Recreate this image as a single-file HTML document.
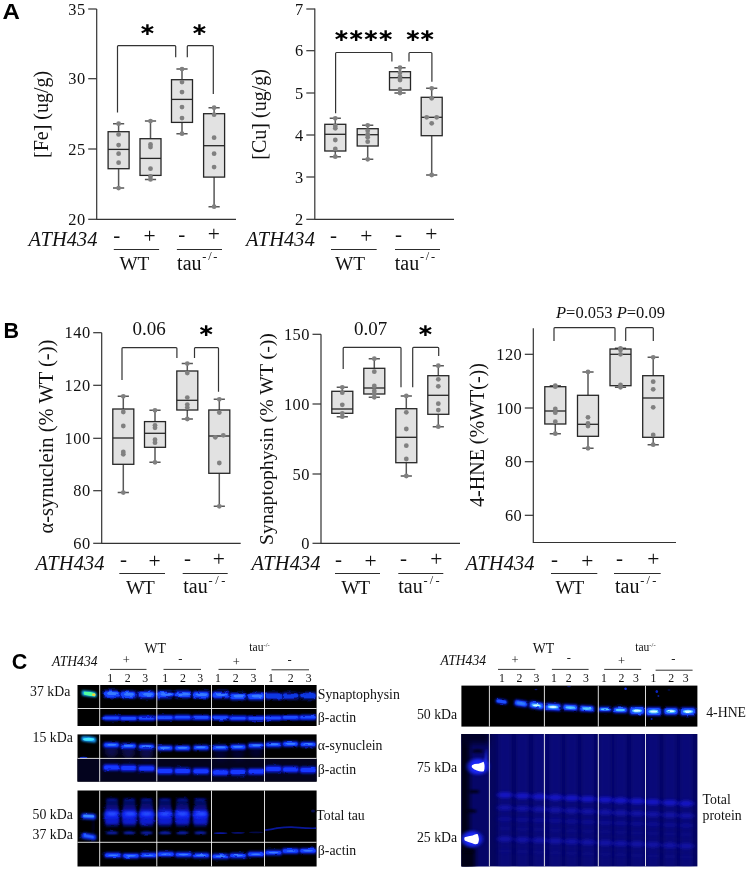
<!DOCTYPE html>
<html lang="en"><head><meta charset="utf-8"><title>Figure</title>
<style>
html,body{margin:0;padding:0;background:#fff}
svg{display:block}
text{font-family:"Liberation Serif", serif}
</style></head><body>
<svg width="749" height="871" viewBox="0 0 749 871">
<defs>
<filter id="b1" x="-30%" y="-100%" width="160%" height="300%"><feGaussianBlur stdDeviation="1.1 0.9"/></filter>
<filter id="b2" x="-30%" y="-100%" width="160%" height="300%"><feGaussianBlur stdDeviation="2 1.6"/></filter>
<filter id="b3" x="-30%" y="-50%" width="160%" height="200%"><feGaussianBlur stdDeviation="2.5 3"/></filter>
<filter id="b05" x="-30%" y="-100%" width="160%" height="300%"><feGaussianBlur stdDeviation="0.6"/></filter>
</defs>
<rect width="749" height="871" fill="#fff"/>

<text transform="translate(2.6 18.6) scale(1.12 1)" x="0" y="0" font-size="21.5" font-weight="bold" style='font-family:"Liberation Sans", sans-serif' fill="#000">A</text>
<text x="3.6" y="338.2" font-size="21.5" text-anchor="start" style='font-family:"Liberation Sans", sans-serif' font-weight="bold" fill="#000">B</text>
<text x="11.8" y="668.6" font-size="21.5" text-anchor="start" style='font-family:"Liberation Sans", sans-serif' font-weight="bold" fill="#000">C</text>
<path d="M96.7 9.0V219.3H236.0" stroke="#333" stroke-width="1.2" fill="none"/>
<path d="M88.2 9.0h8.5" stroke="#333" stroke-width="1.2"/>
<text x="85.7" y="14.6" font-size="16.4" text-anchor="end" fill="#111" letter-spacing="0.5">35</text>
<path d="M88.2 78.7h8.5" stroke="#333" stroke-width="1.2"/>
<text x="85.7" y="84.3" font-size="16.4" text-anchor="end" fill="#111" letter-spacing="0.5">30</text>
<path d="M88.2 149.0h8.5" stroke="#333" stroke-width="1.2"/>
<text x="85.7" y="154.6" font-size="16.4" text-anchor="end" fill="#111" letter-spacing="0.5">25</text>
<path d="M88.2 219.3h8.5" stroke="#333" stroke-width="1.2"/>
<text x="85.7" y="224.9" font-size="16.4" text-anchor="end" fill="#111" letter-spacing="0.5">20</text>
<text transform="translate(47.8 114.4) rotate(-90)" font-size="20" text-anchor="middle" fill="#111">[Fe] (ug/g)</text>
<path d="M117.5 112.5V46.6q0 -0.9 0.9 -0.9H174.8q0.9 0 0.9 0.9V57.3" stroke="#333" stroke-width="1.2" fill="none"/>
<path d="M187.3 57.3V46.6q0 -0.9 0.9 -0.9H212.4q0.9 0 0.9 0.9V94.0" stroke="#333" stroke-width="1.2" fill="none"/>
<path d="M118.6 123.7V131.7M118.6 168.7V188.1M113.0 123.7h11.2M113.0 188.1h11.2" stroke="#585858" stroke-width="1.5" fill="none"/>
<rect x="108.1" y="131.7" width="21.0" height="37.0" fill="#e2e2e2" stroke="#262626" stroke-width="1.3"/>
<path d="M108.1 149.4h21.0" stroke="#262626" stroke-width="1.3"/>
<circle cx="118.6" cy="123.7" r="2.4" fill="#808080"/>
<circle cx="118.6" cy="134.4" r="2.4" fill="#808080"/>
<circle cx="118.6" cy="145.1" r="2.4" fill="#808080"/>
<circle cx="118.6" cy="153.7" r="2.4" fill="#808080"/>
<circle cx="118.6" cy="162.7" r="2.4" fill="#808080"/>
<circle cx="118.6" cy="188.1" r="2.4" fill="#808080"/>
<path d="M150.5 121.1V138.7M150.5 175.4V179.4M144.9 121.1h11.2M144.9 179.4h11.2" stroke="#585858" stroke-width="1.5" fill="none"/>
<rect x="140.0" y="138.7" width="21.0" height="36.7" fill="#e2e2e2" stroke="#262626" stroke-width="1.3"/>
<path d="M140.0 158.4h21.0" stroke="#262626" stroke-width="1.3"/>
<circle cx="150.5" cy="121.1" r="2.4" fill="#808080"/>
<circle cx="150.5" cy="144.4" r="2.4" fill="#808080"/>
<circle cx="150.5" cy="147.1" r="2.4" fill="#808080"/>
<circle cx="150.5" cy="168.7" r="2.4" fill="#808080"/>
<circle cx="150.5" cy="176.4" r="2.4" fill="#808080"/>
<circle cx="150.5" cy="179.4" r="2.4" fill="#808080"/>
<path d="M182.0 69.1V79.7M182.0 122.4V133.7M176.4 69.1h11.2M176.4 133.7h11.2" stroke="#585858" stroke-width="1.5" fill="none"/>
<rect x="171.5" y="79.7" width="21.0" height="42.7" fill="#e2e2e2" stroke="#262626" stroke-width="1.3"/>
<path d="M171.5 99.4h21.0" stroke="#262626" stroke-width="1.3"/>
<circle cx="182.0" cy="69.1" r="2.4" fill="#808080"/>
<circle cx="182.0" cy="82.1" r="2.4" fill="#808080"/>
<circle cx="182.0" cy="92.1" r="2.4" fill="#808080"/>
<circle cx="182.0" cy="107.1" r="2.4" fill="#808080"/>
<circle cx="182.0" cy="118.1" r="2.4" fill="#808080"/>
<circle cx="182.0" cy="133.7" r="2.4" fill="#808080"/>
<path d="M214.1 107.7V113.7M214.1 177.1V206.7M208.5 107.7h11.2M208.5 206.7h11.2" stroke="#585858" stroke-width="1.5" fill="none"/>
<rect x="203.6" y="113.7" width="21.0" height="63.4" fill="#e2e2e2" stroke="#262626" stroke-width="1.3"/>
<path d="M203.6 145.7h21.0" stroke="#262626" stroke-width="1.3"/>
<circle cx="214.1" cy="107.7" r="2.4" fill="#808080"/>
<circle cx="214.1" cy="114.7" r="2.4" fill="#808080"/>
<circle cx="214.1" cy="137.7" r="2.4" fill="#808080"/>
<circle cx="214.1" cy="153.7" r="2.4" fill="#808080"/>
<circle cx="214.1" cy="167.1" r="2.4" fill="#808080"/>
<circle cx="214.1" cy="206.7" r="2.4" fill="#808080"/>
<text x="97.7" y="245.9" font-size="20.4" text-anchor="end" font-style="italic" fill="#111" letter-spacing="0.12">ATH434</text>
<text x="116.8" y="241.9" font-size="21" text-anchor="middle" fill="#111">-</text>
<text x="149.5" y="243.1" font-size="21.5" text-anchor="middle" fill="#111">+</text>
<text x="181.8" y="240.9" font-size="21" text-anchor="middle" fill="#111">-</text>
<text x="213.8" y="241.3" font-size="21.5" text-anchor="middle" fill="#111">+</text>
<path d="M113.8 249.5H159.1" stroke="#2c2c2c" stroke-width="1"/>
<path d="M176.9 249.5H222.0" stroke="#2c2c2c" stroke-width="1"/>
<text x="134.4" y="270.1" font-size="19.3" text-anchor="middle" fill="#111" letter-spacing="0">WT</text>
<text x="198.1" y="269.8" font-size="20" text-anchor="middle" fill="#111">tau<tspan font-size="12.4" dy="-9.4" dx="0.8" letter-spacing="1.7">-/-</tspan></text>
<path d="M314.8 8.6V219.3H454.0" stroke="#333" stroke-width="1.2" fill="none"/>
<path d="M306.3 9.0h8.5" stroke="#333" stroke-width="1.2"/>
<text x="303.8" y="14.6" font-size="16.4" text-anchor="end" fill="#111" letter-spacing="0.5">7</text>
<path d="M306.3 50.7h8.5" stroke="#333" stroke-width="1.2"/>
<text x="303.8" y="56.3" font-size="16.4" text-anchor="end" fill="#111" letter-spacing="0.5">6</text>
<path d="M306.3 93.0h8.5" stroke="#333" stroke-width="1.2"/>
<text x="303.8" y="98.6" font-size="16.4" text-anchor="end" fill="#111" letter-spacing="0.5">5</text>
<path d="M306.3 135.0h8.5" stroke="#333" stroke-width="1.2"/>
<text x="303.8" y="140.6" font-size="16.4" text-anchor="end" fill="#111" letter-spacing="0.5">4</text>
<path d="M306.3 177.0h8.5" stroke="#333" stroke-width="1.2"/>
<text x="303.8" y="182.6" font-size="16.4" text-anchor="end" fill="#111" letter-spacing="0.5">3</text>
<path d="M306.3 219.3h8.5" stroke="#333" stroke-width="1.2"/>
<text x="303.8" y="224.9" font-size="16.4" text-anchor="end" fill="#111" letter-spacing="0.5">2</text>
<text transform="translate(266.4 114.4) rotate(-90)" font-size="20" text-anchor="middle" fill="#111">[Cu] (ug/g)</text>
<path d="M335.6 113.3V53.4q0 -0.9 0.9 -0.9H391.0q0.9 0 0.9 0.9V61.5" stroke="#333" stroke-width="1.2" fill="none"/>
<path d="M409.0 61.5V53.4q0 -0.9 0.9 -0.9H431.0q0.9 0 0.9 0.9V81.7" stroke="#333" stroke-width="1.2" fill="none"/>
<path d="M335.3 118.3V124.3M335.3 151.0V156.7M329.7 118.3h11.2M329.7 156.7h11.2" stroke="#585858" stroke-width="1.5" fill="none"/>
<rect x="324.8" y="124.3" width="21.0" height="26.7" fill="#e2e2e2" stroke="#262626" stroke-width="1.3"/>
<path d="M324.8 134.3h21.0" stroke="#262626" stroke-width="1.3"/>
<circle cx="335.3" cy="118.3" r="2.4" fill="#808080"/>
<circle cx="335.3" cy="126.0" r="2.4" fill="#808080"/>
<circle cx="335.3" cy="128.3" r="2.4" fill="#808080"/>
<circle cx="335.3" cy="140.0" r="2.4" fill="#808080"/>
<circle cx="335.3" cy="149.0" r="2.4" fill="#808080"/>
<circle cx="335.3" cy="156.7" r="2.4" fill="#808080"/>
<path d="M367.7 125.3V128.7M367.7 146.0V159.3M362.1 125.3h11.2M362.1 159.3h11.2" stroke="#585858" stroke-width="1.5" fill="none"/>
<rect x="357.2" y="128.7" width="21.0" height="17.3" fill="#e2e2e2" stroke="#262626" stroke-width="1.3"/>
<path d="M357.2 134.7h21.0" stroke="#262626" stroke-width="1.3"/>
<circle cx="367.7" cy="125.3" r="2.4" fill="#808080"/>
<circle cx="367.7" cy="130.7" r="2.4" fill="#808080"/>
<circle cx="367.7" cy="134.3" r="2.4" fill="#808080"/>
<circle cx="367.7" cy="137.3" r="2.4" fill="#808080"/>
<circle cx="367.7" cy="141.7" r="2.4" fill="#808080"/>
<circle cx="367.7" cy="159.3" r="2.4" fill="#808080"/>
<path d="M400.0 67.7V71.7M400.0 90.0V93.0M394.4 67.7h11.2M394.4 93.0h11.2" stroke="#585858" stroke-width="1.5" fill="none"/>
<rect x="389.5" y="71.7" width="21.0" height="18.3" fill="#e2e2e2" stroke="#262626" stroke-width="1.3"/>
<path d="M389.5 77.7h21.0" stroke="#262626" stroke-width="1.3"/>
<circle cx="400.0" cy="67.7" r="2.4" fill="#808080"/>
<circle cx="400.0" cy="72.7" r="2.4" fill="#808080"/>
<circle cx="400.0" cy="76.7" r="2.4" fill="#808080"/>
<circle cx="400.0" cy="80.0" r="2.4" fill="#808080"/>
<circle cx="400.0" cy="89.3" r="2.4" fill="#808080"/>
<circle cx="400.0" cy="93.0" r="2.4" fill="#808080"/>
<path d="M431.7 88.3V97.3M431.7 135.7V175.0M426.1 88.3h11.2M426.1 175.0h11.2" stroke="#585858" stroke-width="1.5" fill="none"/>
<rect x="421.2" y="97.3" width="21.0" height="38.4" fill="#e2e2e2" stroke="#262626" stroke-width="1.3"/>
<path d="M421.2 117.3h21.0" stroke="#262626" stroke-width="1.3"/>
<circle cx="431.7" cy="88.3" r="2.4" fill="#808080"/>
<circle cx="431.7" cy="98.3" r="2.4" fill="#808080"/>
<circle cx="426.7" cy="117.3" r="2.4" fill="#808080"/>
<circle cx="436.7" cy="117.3" r="2.4" fill="#808080"/>
<circle cx="431.7" cy="123.3" r="2.4" fill="#808080"/>
<circle cx="431.7" cy="175.0" r="2.4" fill="#808080"/>
<text x="315.0" y="245.9" font-size="20.4" text-anchor="end" font-style="italic" fill="#111" letter-spacing="0.12">ATH434</text>
<text x="333.4" y="241.9" font-size="21" text-anchor="middle" fill="#111">-</text>
<text x="366.2" y="243.1" font-size="21.5" text-anchor="middle" fill="#111">+</text>
<text x="398.4" y="240.9" font-size="21" text-anchor="middle" fill="#111">-</text>
<text x="431.2" y="241.3" font-size="21.5" text-anchor="middle" fill="#111">+</text>
<path d="M331.0 249.5H376.7" stroke="#2c2c2c" stroke-width="1"/>
<path d="M395.0 249.5H440.0" stroke="#2c2c2c" stroke-width="1"/>
<text x="350.1" y="270.1" font-size="19.3" text-anchor="middle" fill="#111" letter-spacing="0">WT</text>
<text x="415.8" y="269.8" font-size="20" text-anchor="middle" fill="#111">tau<tspan font-size="12.4" dy="-9.4" dx="0.8" letter-spacing="1.7">-/-</tspan></text>
<path d="M101.7 332.7V543.3H240.7" stroke="#333" stroke-width="1.2" fill="none"/>
<path d="M93.2 332.7h8.5" stroke="#333" stroke-width="1.2"/>
<text x="90.7" y="338.3" font-size="16.4" text-anchor="end" fill="#111" letter-spacing="0.5">140</text>
<path d="M93.2 385.3h8.5" stroke="#333" stroke-width="1.2"/>
<text x="90.7" y="390.9" font-size="16.4" text-anchor="end" fill="#111" letter-spacing="0.5">120</text>
<path d="M93.2 438.3h8.5" stroke="#333" stroke-width="1.2"/>
<text x="90.7" y="443.9" font-size="16.4" text-anchor="end" fill="#111" letter-spacing="0.5">100</text>
<path d="M93.2 490.7h8.5" stroke="#333" stroke-width="1.2"/>
<text x="90.7" y="496.3" font-size="16.4" text-anchor="end" fill="#111" letter-spacing="0.5">80</text>
<path d="M93.2 543.3h8.5" stroke="#333" stroke-width="1.2"/>
<text x="90.7" y="548.9" font-size="16.4" text-anchor="end" fill="#111" letter-spacing="0.5">60</text>
<text transform="translate(52.8 436.6) rotate(-90)" font-size="20.5" text-anchor="middle" fill="#111">α-synuclein (% WT (-))</text>
<path d="M122.0 380.0V348.6q0 -0.9 0.9 -0.9H176.0q0.9 0 0.9 0.9V358.0" stroke="#333" stroke-width="1.2" fill="none"/>
<path d="M194.5 358.0V348.6q0 -0.9 0.9 -0.9H217.6q0.9 0 0.9 0.9V391.7" stroke="#333" stroke-width="1.2" fill="none"/>
<path d="M123.3 396.3V409.0M123.3 464.3V492.6M117.7 396.3h11.2M117.7 492.6h11.2" stroke="#585858" stroke-width="1.5" fill="none"/>
<rect x="112.8" y="409.0" width="21.0" height="55.3" fill="#e2e2e2" stroke="#262626" stroke-width="1.3"/>
<path d="M112.8 438.0h21.0" stroke="#262626" stroke-width="1.3"/>
<circle cx="123.3" cy="396.3" r="2.4" fill="#808080"/>
<circle cx="123.3" cy="412.0" r="2.4" fill="#808080"/>
<circle cx="123.3" cy="426.0" r="2.4" fill="#808080"/>
<circle cx="123.3" cy="452.0" r="2.4" fill="#808080"/>
<circle cx="123.3" cy="454.3" r="2.4" fill="#808080"/>
<circle cx="123.3" cy="492.6" r="2.4" fill="#808080"/>
<path d="M155.0 410.3V421.6M155.0 447.3V462.3M149.4 410.3h11.2M149.4 462.3h11.2" stroke="#585858" stroke-width="1.5" fill="none"/>
<rect x="144.5" y="421.6" width="21.0" height="25.7" fill="#e2e2e2" stroke="#262626" stroke-width="1.3"/>
<path d="M144.5 433.3h21.0" stroke="#262626" stroke-width="1.3"/>
<circle cx="155.0" cy="410.3" r="2.4" fill="#808080"/>
<circle cx="155.0" cy="425.3" r="2.4" fill="#808080"/>
<circle cx="155.0" cy="427.8" r="2.4" fill="#808080"/>
<circle cx="155.0" cy="439.7" r="2.4" fill="#808080"/>
<circle cx="155.0" cy="442.7" r="2.4" fill="#808080"/>
<circle cx="155.0" cy="462.3" r="2.4" fill="#808080"/>
<path d="M187.3 363.6V371.0M187.3 410.0V419.0M181.7 363.6h11.2M181.7 419.0h11.2" stroke="#585858" stroke-width="1.5" fill="none"/>
<rect x="176.8" y="371.0" width="21.0" height="39.0" fill="#e2e2e2" stroke="#262626" stroke-width="1.3"/>
<path d="M176.8 400.3h21.0" stroke="#262626" stroke-width="1.3"/>
<circle cx="187.3" cy="363.6" r="2.4" fill="#808080"/>
<circle cx="187.3" cy="373.0" r="2.4" fill="#808080"/>
<circle cx="187.3" cy="397.6" r="2.4" fill="#808080"/>
<circle cx="187.3" cy="404.6" r="2.4" fill="#808080"/>
<circle cx="187.3" cy="407.6" r="2.4" fill="#808080"/>
<circle cx="187.3" cy="419.0" r="2.4" fill="#808080"/>
<path d="M219.3 399.3V410.0M219.3 473.3V506.3M213.7 399.3h11.2M213.7 506.3h11.2" stroke="#585858" stroke-width="1.5" fill="none"/>
<rect x="208.8" y="410.0" width="21.0" height="63.3" fill="#e2e2e2" stroke="#262626" stroke-width="1.3"/>
<path d="M208.8 436.0h21.0" stroke="#262626" stroke-width="1.3"/>
<circle cx="219.3" cy="399.3" r="2.4" fill="#808080"/>
<circle cx="219.3" cy="412.6" r="2.4" fill="#808080"/>
<circle cx="223.3" cy="435.3" r="2.4" fill="#808080"/>
<circle cx="215.3" cy="437.3" r="2.4" fill="#808080"/>
<circle cx="219.3" cy="463.0" r="2.4" fill="#808080"/>
<circle cx="219.3" cy="506.3" r="2.4" fill="#808080"/>
<text x="104.6" y="570.3" font-size="20.4" text-anchor="end" font-style="italic" fill="#111" letter-spacing="0.12">ATH434</text>
<text x="123.4" y="566.3" font-size="21" text-anchor="middle" fill="#111">-</text>
<text x="154.5" y="567.5" font-size="21.5" text-anchor="middle" fill="#111">+</text>
<text x="187.4" y="565.3" font-size="21" text-anchor="middle" fill="#111">-</text>
<text x="218.8" y="565.7" font-size="21.5" text-anchor="middle" fill="#111">+</text>
<path d="M119.3 573.5H165.0" stroke="#2c2c2c" stroke-width="1"/>
<path d="M182.7 573.5H227.7" stroke="#2c2c2c" stroke-width="1"/>
<text x="139.8" y="593.6" font-size="19.3" text-anchor="middle" fill="#111" letter-spacing="-1.2">WT</text>
<text x="205.6" y="593.3" font-size="20" text-anchor="middle" fill="#111">tau<tspan font-size="12.4" dy="-9.4" dx="0.8" letter-spacing="2.6">-/-</tspan></text>
<text x="149.0" y="335.2" font-size="19" text-anchor="middle" fill="#111">0.06</text>
<path d="M321.0 334.3V543.3H460.0" stroke="#333" stroke-width="1.2" fill="none"/>
<path d="M312.5 334.3h8.5" stroke="#333" stroke-width="1.2"/>
<text x="310.0" y="339.9" font-size="16.4" text-anchor="end" fill="#111" letter-spacing="0.5">150</text>
<path d="M312.5 404.0h8.5" stroke="#333" stroke-width="1.2"/>
<text x="310.0" y="409.6" font-size="16.4" text-anchor="end" fill="#111" letter-spacing="0.5">100</text>
<path d="M312.5 474.0h8.5" stroke="#333" stroke-width="1.2"/>
<text x="310.0" y="479.6" font-size="16.4" text-anchor="end" fill="#111" letter-spacing="0.5">50</text>
<path d="M312.5 543.3h8.5" stroke="#333" stroke-width="1.2"/>
<text x="310.0" y="548.9" font-size="16.4" text-anchor="end" fill="#111" letter-spacing="0.5">0</text>
<text transform="translate(273.3 439.0) rotate(-90)" font-size="19.8" text-anchor="middle" fill="#111">Synaptophysin (% WT (-))</text>
<path d="M343.2 369.0V348.2q0 -0.9 0.9 -0.9H400.1q0.9 0 0.9 0.9V387.3" stroke="#333" stroke-width="1.2" fill="none"/>
<path d="M412.7 387.3V348.2q0 -0.9 0.9 -0.9H437.8q0.9 0 0.9 0.9V356.0" stroke="#333" stroke-width="1.2" fill="none"/>
<path d="M342.3 387.3V391.3M342.3 413.3V416.7M336.7 387.3h11.2M336.7 416.7h11.2" stroke="#585858" stroke-width="1.5" fill="none"/>
<rect x="331.8" y="391.3" width="21.0" height="22.0" fill="#e2e2e2" stroke="#262626" stroke-width="1.3"/>
<path d="M331.8 409.0h21.0" stroke="#262626" stroke-width="1.3"/>
<circle cx="342.3" cy="387.3" r="2.4" fill="#808080"/>
<circle cx="342.3" cy="392.7" r="2.4" fill="#808080"/>
<circle cx="342.3" cy="404.8" r="2.4" fill="#808080"/>
<circle cx="342.3" cy="413.3" r="2.4" fill="#808080"/>
<circle cx="342.3" cy="416.7" r="2.4" fill="#808080"/>
<path d="M374.3 358.7V368.3M374.3 394.0V397.3M368.7 358.7h11.2M368.7 397.3h11.2" stroke="#585858" stroke-width="1.5" fill="none"/>
<rect x="363.8" y="368.3" width="21.0" height="25.7" fill="#e2e2e2" stroke="#262626" stroke-width="1.3"/>
<path d="M363.8 388.0h21.0" stroke="#262626" stroke-width="1.3"/>
<circle cx="374.3" cy="358.7" r="2.4" fill="#808080"/>
<circle cx="374.3" cy="371.7" r="2.4" fill="#808080"/>
<circle cx="374.3" cy="386.0" r="2.4" fill="#808080"/>
<circle cx="374.3" cy="391.0" r="2.4" fill="#808080"/>
<circle cx="374.3" cy="394.0" r="2.4" fill="#808080"/>
<circle cx="374.3" cy="397.3" r="2.4" fill="#808080"/>
<path d="M406.3 396.0V408.7M406.3 462.7V476.0M400.7 396.0h11.2M400.7 476.0h11.2" stroke="#585858" stroke-width="1.5" fill="none"/>
<rect x="395.8" y="408.7" width="21.0" height="54.0" fill="#e2e2e2" stroke="#262626" stroke-width="1.3"/>
<path d="M395.8 437.3h21.0" stroke="#262626" stroke-width="1.3"/>
<circle cx="406.3" cy="396.0" r="2.4" fill="#808080"/>
<circle cx="406.3" cy="412.3" r="2.4" fill="#808080"/>
<circle cx="406.3" cy="429.0" r="2.4" fill="#808080"/>
<circle cx="406.3" cy="445.7" r="2.4" fill="#808080"/>
<circle cx="406.3" cy="459.0" r="2.4" fill="#808080"/>
<circle cx="406.3" cy="476.0" r="2.4" fill="#808080"/>
<path d="M438.3 365.7V375.7M438.3 414.3V426.7M432.7 365.7h11.2M432.7 426.7h11.2" stroke="#585858" stroke-width="1.5" fill="none"/>
<rect x="427.8" y="375.7" width="21.0" height="38.6" fill="#e2e2e2" stroke="#262626" stroke-width="1.3"/>
<path d="M427.8 395.3h21.0" stroke="#262626" stroke-width="1.3"/>
<circle cx="438.3" cy="365.7" r="2.4" fill="#808080"/>
<circle cx="438.3" cy="379.3" r="2.4" fill="#808080"/>
<circle cx="438.3" cy="386.3" r="2.4" fill="#808080"/>
<circle cx="438.3" cy="403.7" r="2.4" fill="#808080"/>
<circle cx="438.3" cy="410.1" r="2.4" fill="#808080"/>
<circle cx="438.3" cy="426.7" r="2.4" fill="#808080"/>
<text x="320.6" y="570.3" font-size="20.4" text-anchor="end" font-style="italic" fill="#111" letter-spacing="0.12">ATH434</text>
<text x="338.4" y="566.3" font-size="21" text-anchor="middle" fill="#111">-</text>
<text x="370.5" y="567.5" font-size="21.5" text-anchor="middle" fill="#111">+</text>
<text x="403.4" y="565.3" font-size="21" text-anchor="middle" fill="#111">-</text>
<text x="436.2" y="565.7" font-size="21.5" text-anchor="middle" fill="#111">+</text>
<path d="M335.0 573.5H380.0" stroke="#2c2c2c" stroke-width="1"/>
<path d="M398.3 573.5H443.3" stroke="#2c2c2c" stroke-width="1"/>
<text x="355.1" y="593.6" font-size="19.3" text-anchor="middle" fill="#111" letter-spacing="-1.2">WT</text>
<text x="420.0" y="593.3" font-size="20" text-anchor="middle" fill="#111">tau<tspan font-size="12.4" dy="-9.4" dx="0.8" letter-spacing="2.2">-/-</tspan></text>
<text x="370.6" y="335.2" font-size="19" text-anchor="middle" fill="#111">0.07</text>
<path d="M533.3 328.3V542.5H676.0" stroke="#333" stroke-width="1.2" fill="none"/>
<path d="M524.8 354.3h8.5" stroke="#333" stroke-width="1.2"/>
<text x="522.3" y="359.9" font-size="16.4" text-anchor="end" fill="#111" letter-spacing="0.5">120</text>
<path d="M524.8 408.0h8.5" stroke="#333" stroke-width="1.2"/>
<text x="522.3" y="413.6" font-size="16.4" text-anchor="end" fill="#111" letter-spacing="0.5">100</text>
<path d="M524.8 461.7h8.5" stroke="#333" stroke-width="1.2"/>
<text x="522.3" y="467.3" font-size="16.4" text-anchor="end" fill="#111" letter-spacing="0.5">80</text>
<path d="M524.8 515.3h8.5" stroke="#333" stroke-width="1.2"/>
<text x="522.3" y="520.9" font-size="16.4" text-anchor="end" fill="#111" letter-spacing="0.5">60</text>
<text transform="translate(484.0 435.0) rotate(-90)" font-size="20" text-anchor="middle" fill="#111">4-HNE (%WT(-))</text>
<path d="M554.0 341.0V328.6q0 -0.9 0.9 -0.9H614.1q0.9 0 0.9 0.9V341.0" stroke="#333" stroke-width="1.2" fill="none"/>
<path d="M625.7 341.0V328.6q0 -0.9 0.9 -0.9H652.4q0.9 0 0.9 0.9V341.0" stroke="#333" stroke-width="1.2" fill="none"/>
<path d="M555.3 385.7V386.7M555.3 424.0V433.7M549.7 385.7h11.2M549.7 433.7h11.2" stroke="#585858" stroke-width="1.5" fill="none"/>
<rect x="544.8" y="386.7" width="21.0" height="37.3" fill="#e2e2e2" stroke="#262626" stroke-width="1.3"/>
<path d="M544.8 411.0h21.0" stroke="#262626" stroke-width="1.3"/>
<circle cx="555.3" cy="385.7" r="2.4" fill="#808080"/>
<circle cx="555.3" cy="386.7" r="2.4" fill="#808080"/>
<circle cx="555.3" cy="409.0" r="2.4" fill="#808080"/>
<circle cx="555.3" cy="412.7" r="2.4" fill="#808080"/>
<circle cx="555.3" cy="421.7" r="2.4" fill="#808080"/>
<circle cx="555.3" cy="433.7" r="2.4" fill="#808080"/>
<path d="M588.0 372.0V395.3M588.0 436.3V448.3M582.4 372.0h11.2M582.4 448.3h11.2" stroke="#585858" stroke-width="1.5" fill="none"/>
<rect x="577.5" y="395.3" width="21.0" height="41.0" fill="#e2e2e2" stroke="#262626" stroke-width="1.3"/>
<path d="M577.5 424.3h21.0" stroke="#262626" stroke-width="1.3"/>
<circle cx="588.0" cy="372.0" r="2.4" fill="#808080"/>
<circle cx="588.0" cy="417.3" r="2.4" fill="#808080"/>
<circle cx="588.0" cy="423.3" r="2.4" fill="#808080"/>
<circle cx="588.0" cy="426.0" r="2.4" fill="#808080"/>
<circle cx="588.0" cy="448.3" r="2.4" fill="#808080"/>
<path d="M620.5 348.3V349.0M620.5 385.7V387.3M614.9 348.3h11.2M614.9 387.3h11.2" stroke="#585858" stroke-width="1.5" fill="none"/>
<rect x="610.0" y="349.0" width="21.0" height="36.7" fill="#e2e2e2" stroke="#262626" stroke-width="1.3"/>
<path d="M610.0 354.3h21.0" stroke="#262626" stroke-width="1.3"/>
<circle cx="620.5" cy="348.3" r="2.4" fill="#808080"/>
<circle cx="620.5" cy="350.0" r="2.4" fill="#808080"/>
<circle cx="620.5" cy="354.3" r="2.4" fill="#808080"/>
<circle cx="620.5" cy="385.0" r="2.4" fill="#808080"/>
<circle cx="620.5" cy="387.3" r="2.4" fill="#808080"/>
<path d="M653.2 357.3V375.7M653.2 437.3V444.7M647.6 357.3h11.2M647.6 444.7h11.2" stroke="#585858" stroke-width="1.5" fill="none"/>
<rect x="642.7" y="375.7" width="21.0" height="61.6" fill="#e2e2e2" stroke="#262626" stroke-width="1.3"/>
<path d="M642.7 398.0h21.0" stroke="#262626" stroke-width="1.3"/>
<circle cx="653.2" cy="357.3" r="2.4" fill="#808080"/>
<circle cx="653.2" cy="381.7" r="2.4" fill="#808080"/>
<circle cx="653.2" cy="389.3" r="2.4" fill="#808080"/>
<circle cx="653.2" cy="407.3" r="2.4" fill="#808080"/>
<circle cx="653.2" cy="435.0" r="2.4" fill="#808080"/>
<circle cx="653.2" cy="444.7" r="2.4" fill="#808080"/>
<text x="534.6" y="570.3" font-size="20.4" text-anchor="end" font-style="italic" fill="#111" letter-spacing="0.12">ATH434</text>
<text x="554.4" y="566.3" font-size="21" text-anchor="middle" fill="#111">-</text>
<text x="587.2" y="567.5" font-size="21.5" text-anchor="middle" fill="#111">+</text>
<text x="619.4" y="565.3" font-size="21" text-anchor="middle" fill="#111">-</text>
<text x="653.2" y="565.7" font-size="21.5" text-anchor="middle" fill="#111">+</text>
<path d="M551.0 573.5H597.3" stroke="#2c2c2c" stroke-width="1"/>
<path d="M614.0 573.5H660.7" stroke="#2c2c2c" stroke-width="1"/>
<text x="569.3" y="593.6" font-size="19.3" text-anchor="middle" fill="#111" letter-spacing="-1.2">WT</text>
<text x="636.8" y="593.3" font-size="20" text-anchor="middle" fill="#111">tau<tspan font-size="12.4" dy="-9.4" dx="0.8" letter-spacing="2.2">-/-</tspan></text>
<text x="556" y="318.2" font-size="16.5" fill="#111"><tspan font-style="italic">P</tspan>=0.053 <tspan font-style="italic">P</tspan>=0.09</text>
<text transform="translate(147.4 30.0) scale(1.1 0.9)" x="0" y="5.6" font-size="19" font-weight="bold" text-anchor="middle" style='font-family:"DejaVu Sans", sans-serif' fill="#000">∗</text>
<text transform="translate(199.4 30.0) scale(1.1 0.9)" x="0" y="5.6" font-size="19" font-weight="bold" text-anchor="middle" style='font-family:"DejaVu Sans", sans-serif' fill="#000">∗</text>
<text transform="translate(341.6 35.5) scale(1.1 0.9)" x="0" y="5.6" font-size="19" font-weight="bold" text-anchor="middle" style='font-family:"DejaVu Sans", sans-serif' fill="#000">∗</text>
<text transform="translate(356.3 35.5) scale(1.1 0.9)" x="0" y="5.6" font-size="19" font-weight="bold" text-anchor="middle" style='font-family:"DejaVu Sans", sans-serif' fill="#000">∗</text>
<text transform="translate(371.0 35.5) scale(1.1 0.9)" x="0" y="5.6" font-size="19" font-weight="bold" text-anchor="middle" style='font-family:"DejaVu Sans", sans-serif' fill="#000">∗</text>
<text transform="translate(385.8 35.5) scale(1.1 0.9)" x="0" y="5.6" font-size="19" font-weight="bold" text-anchor="middle" style='font-family:"DejaVu Sans", sans-serif' fill="#000">∗</text>
<text transform="translate(413.1 35.5) scale(1.1 0.9)" x="0" y="5.6" font-size="19" font-weight="bold" text-anchor="middle" style='font-family:"DejaVu Sans", sans-serif' fill="#000">∗</text>
<text transform="translate(427.3 35.5) scale(1.1 0.9)" x="0" y="5.6" font-size="19" font-weight="bold" text-anchor="middle" style='font-family:"DejaVu Sans", sans-serif' fill="#000">∗</text>
<text transform="translate(206.3 331.2) scale(1.1 0.9)" x="0" y="5.6" font-size="19" font-weight="bold" text-anchor="middle" style='font-family:"DejaVu Sans", sans-serif' fill="#000">∗</text>
<text transform="translate(425.6 330.8) scale(1.1 0.9)" x="0" y="5.6" font-size="19" font-weight="bold" text-anchor="middle" style='font-family:"DejaVu Sans", sans-serif' fill="#000">∗</text>
<text x="97.5" y="665.5" font-size="13.6" text-anchor="end" font-style="italic" fill="#111">ATH434</text>
<text x="155.3" y="653.3" font-size="13.8" text-anchor="middle" fill="#111">WT</text>
<text x="259.5" y="650.9" font-size="11.6" text-anchor="middle" fill="#111">tau<tspan font-size="6.6" dy="-3.6">-/-</tspan></text>
<text x="126.4" y="664.0" font-size="12.5" text-anchor="middle" fill="#111">+</text>
<text x="180.3" y="662.7" font-size="12.5" text-anchor="middle" fill="#111">-</text>
<text x="236.4" y="665.6" font-size="12.5" text-anchor="middle" fill="#111">+</text>
<text x="289.7" y="663.5" font-size="12.5" text-anchor="middle" fill="#111">-</text>
<path d="M110.0 669.4H146.5" stroke="#333" stroke-width="1"/>
<path d="M163.5 669.4H201.0" stroke="#333" stroke-width="1"/>
<path d="M218.5 669.4H256.0" stroke="#333" stroke-width="1"/>
<path d="M271.5 669.8H309.0" stroke="#333" stroke-width="1"/>
<text x="110.2" y="681.8" font-size="11.8" text-anchor="middle" fill="#111">1</text>
<text x="127.7" y="681.8" font-size="11.8" text-anchor="middle" fill="#111">2</text>
<text x="145.2" y="681.8" font-size="11.8" text-anchor="middle" fill="#111">3</text>
<text x="165.3" y="681.8" font-size="11.8" text-anchor="middle" fill="#111">1</text>
<text x="182.9" y="681.8" font-size="11.8" text-anchor="middle" fill="#111">2</text>
<text x="200.3" y="681.8" font-size="11.8" text-anchor="middle" fill="#111">3</text>
<text x="218.0" y="681.8" font-size="11.8" text-anchor="middle" fill="#111">1</text>
<text x="235.6" y="681.8" font-size="11.8" text-anchor="middle" fill="#111">2</text>
<text x="253.4" y="681.8" font-size="11.8" text-anchor="middle" fill="#111">3</text>
<text x="270.9" y="681.8" font-size="11.8" text-anchor="middle" fill="#111">1</text>
<text x="290.8" y="681.8" font-size="11.8" text-anchor="middle" fill="#111">2</text>
<text x="308.6" y="681.8" font-size="11.8" text-anchor="middle" fill="#111">3</text>
<text x="486.0" y="664.9" font-size="13.6" text-anchor="end" font-style="italic" fill="#111">ATH434</text>
<text x="543.5" y="653.2" font-size="13.8" text-anchor="middle" fill="#111">WT</text>
<text x="645.4" y="650.8" font-size="11.6" text-anchor="middle" fill="#111">tau<tspan font-size="6.6" dy="-3.6">-/-</tspan></text>
<text x="515.0" y="664.0" font-size="12.5" text-anchor="middle" fill="#111">+</text>
<text x="568.8" y="662.3" font-size="12.5" text-anchor="middle" fill="#111">-</text>
<text x="621.6" y="665.2" font-size="12.5" text-anchor="middle" fill="#111">+</text>
<text x="673.3" y="662.7" font-size="12.5" text-anchor="middle" fill="#111">-</text>
<path d="M498.0 669.4H535.3" stroke="#333" stroke-width="1"/>
<path d="M551.9 669.4H588.6" stroke="#333" stroke-width="1"/>
<path d="M604.2 669.4H641.2" stroke="#333" stroke-width="1"/>
<path d="M655.6 670.2H692.6" stroke="#333" stroke-width="1"/>
<text x="502.0" y="681.5" font-size="11.8" text-anchor="middle" fill="#111">1</text>
<text x="519.4" y="681.5" font-size="11.8" text-anchor="middle" fill="#111">2</text>
<text x="536.4" y="681.5" font-size="11.8" text-anchor="middle" fill="#111">3</text>
<text x="554.0" y="681.5" font-size="11.8" text-anchor="middle" fill="#111">1</text>
<text x="568.8" y="681.5" font-size="11.8" text-anchor="middle" fill="#111">2</text>
<text x="586.0" y="681.5" font-size="11.8" text-anchor="middle" fill="#111">3</text>
<text x="604.0" y="681.5" font-size="11.8" text-anchor="middle" fill="#111">1</text>
<text x="621.4" y="681.5" font-size="11.8" text-anchor="middle" fill="#111">2</text>
<text x="636.0" y="681.5" font-size="11.8" text-anchor="middle" fill="#111">3</text>
<text x="653.4" y="681.5" font-size="11.8" text-anchor="middle" fill="#111">1</text>
<text x="671.1" y="681.5" font-size="11.8" text-anchor="middle" fill="#111">2</text>
<text x="685.7" y="681.5" font-size="11.8" text-anchor="middle" fill="#111">3</text>
<text x="70.3" y="695.8" font-size="13.8" text-anchor="end" fill="#111">37 kDa</text>
<text x="72.8" y="742.1" font-size="13.8" text-anchor="end" fill="#111">15 kDa</text>
<text x="72.8" y="818.6" font-size="13.8" text-anchor="end" fill="#111">50 kDa</text>
<text x="72.8" y="838.6" font-size="13.8" text-anchor="end" fill="#111">37 kDa</text>
<text x="457.2" y="718.6" font-size="13.8" text-anchor="end" fill="#111">50 kDa</text>
<text x="457.2" y="771.6" font-size="13.8" text-anchor="end" fill="#111">75 kDa</text>
<text x="457.2" y="842.1" font-size="13.8" text-anchor="end" fill="#111">25 kDa</text>
<text x="317.8" y="699.4" font-size="13.8" text-anchor="start" fill="#111">Synaptophysin</text>
<text x="317.8" y="721.5" font-size="13.8" text-anchor="start" fill="#111">β-actin</text>
<text x="317.8" y="749.8" font-size="13.8" text-anchor="start" fill="#111">α-synuclein</text>
<text x="317.8" y="774.3" font-size="13.8" text-anchor="start" fill="#111">β-actin</text>
<text x="316.3" y="820.0" font-size="13.8" text-anchor="start" fill="#111">Total tau</text>
<text x="317.8" y="855.1" font-size="13.8" text-anchor="start" fill="#111">β-actin</text>
<text x="706.2" y="717.1" font-size="13.8" text-anchor="start" fill="#111">4-HNE</text>
<text x="702.6" y="804.2" font-size="13.8" text-anchor="start" fill="#111">Total</text>
<text x="702.6" y="820.4" font-size="13.8" text-anchor="start" fill="#111">protein</text>
<clipPath id="cL1"><rect x="77.5" y="685" width="239.10000000000002" height="41"/></clipPath>
<clipPath id="cL2"><rect x="77.5" y="734.4" width="239.10000000000002" height="47.2"/></clipPath>
<clipPath id="cL3"><rect x="77.5" y="790.5" width="239.10000000000002" height="76"/></clipPath>
<clipPath id="cL3a"><rect x="77.5" y="790.5" width="239.10000000000002" height="51.5"/></clipPath>
<clipPath id="cR1"><rect x="461.4" y="685.6" width="236" height="41"/></clipPath>
<clipPath id="cR2"><rect x="461.4" y="734" width="236" height="132.4"/></clipPath>
<filter id="nz" filterUnits="userSpaceOnUse" x="70" y="680" width="640" height="191"><feTurbulence type="fractalNoise" baseFrequency="0.13 0.22" numOctaves="2" seed="4" result="t"/><feDisplacementMap in="SourceGraphic" in2="t" scale="3.4" xChannelSelector="R" yChannelSelector="G"/><feGaussianBlur stdDeviation="0.55"/></filter>
<filter id="nz2" filterUnits="userSpaceOnUse" x="70" y="680" width="640" height="191"><feTurbulence type="fractalNoise" baseFrequency="0.12 0.3" numOctaves="2" seed="9" result="t"/><feDisplacementMap in="SourceGraphic" in2="t" scale="2.2" xChannelSelector="R" yChannelSelector="G"/><feGaussianBlur stdDeviation="0.5"/></filter>
<linearGradient id="tauG" x1="0" y1="0" x2="0" y2="1">
<stop offset="0" stop-color="#0a10a0" stop-opacity="0"/><stop offset="0.08" stop-color="#0a10a0" stop-opacity="0.5"/>
<stop offset="0.34" stop-color="#0b14b8" stop-opacity="0.7"/><stop offset="0.52" stop-color="#1024f0"/>
<stop offset="0.66" stop-color="#0e1cd8"/><stop offset="0.84" stop-color="#0a14b0" stop-opacity="0.85"/>
<stop offset="1" stop-color="#0a10a0" stop-opacity="0"/></linearGradient>
<rect x="77.5" y="685.0" width="239.1" height="41.0" fill="#000"/>
<g clip-path="url(#cL1)">
<path d="M82 690.4Q89 690.2 95.8 692.2Q97 694.5 96.2 697.2Q88 697 82.4 695.6Q81 693 82 690.4Z" fill="#18b8ff" filter="url(#b1)"/>
<path d="M84 691.8Q90 691.6 95 693.2Q95.6 695 95 696.4Q89 696 84.4 694.8Q83.6 693.2 84 691.8Z" fill="#50ffa0" filter="url(#b05)"/>
<ellipse cx="93.8" cy="694.8" rx="1.8" ry="1.3" fill="#ffd030" opacity="0.95" filter="url(#b05)"/>
<g filter="url(#nz)">
<rect x="103.0" y="690.2" width="17.0" height="7.6" rx="2.6" fill="#0a20f0" opacity="0.95" filter="url(#b1)"/>
<rect x="103.8" y="691.5" width="15.5" height="5.0" rx="2.5" fill="#1444ff" opacity="1.0" filter="url(#b05)"/>
<ellipse cx="112.5" cy="693.6" rx="5.5" ry="1.5" fill="#3a80ff" opacity="0.9" filter="url(#b05)"/>
<rect x="120.0" y="690.8" width="17.0" height="7.6" rx="2.6" fill="#0a20f0" opacity="0.95" filter="url(#b1)"/>
<rect x="120.8" y="692.1" width="15.5" height="5.0" rx="2.5" fill="#1444ff" opacity="1.0" filter="url(#b05)"/>
<ellipse cx="129.5" cy="694.2" rx="5.5" ry="1.5" fill="#3a80ff" opacity="0.9" filter="url(#b05)"/>
<rect x="138.0" y="690.8" width="17.0" height="7.6" rx="2.6" fill="#0a20f0" opacity="0.95" filter="url(#b1)"/>
<rect x="138.8" y="692.1" width="15.5" height="5.0" rx="2.5" fill="#1444ff" opacity="1.0" filter="url(#b05)"/>
<ellipse cx="147.5" cy="694.2" rx="5.5" ry="1.5" fill="#3a80ff" opacity="0.9" filter="url(#b05)"/>
<rect x="156.5" y="690.8" width="17.0" height="7.6" rx="2.6" fill="#0a20f0" opacity="0.95" filter="url(#b1)"/>
<rect x="157.2" y="692.1" width="15.5" height="5.0" rx="2.5" fill="#1444ff" opacity="1.0" filter="url(#b05)"/>
<ellipse cx="166.0" cy="694.2" rx="5.5" ry="1.5" fill="#3a80ff" opacity="0.9" filter="url(#b05)"/>
<rect x="174.0" y="690.6" width="17.0" height="7.6" rx="2.6" fill="#0a20f0" opacity="0.95" filter="url(#b1)"/>
<rect x="174.8" y="691.9" width="15.5" height="5.0" rx="2.5" fill="#1444ff" opacity="1.0" filter="url(#b05)"/>
<ellipse cx="183.5" cy="694.0" rx="5.5" ry="1.5" fill="#3a80ff" opacity="0.9" filter="url(#b05)"/>
<rect x="192.5" y="691.0" width="17.0" height="7.6" rx="2.6" fill="#0a20f0" opacity="0.95" filter="url(#b1)"/>
<rect x="193.2" y="692.3" width="15.5" height="5.0" rx="2.5" fill="#1444ff" opacity="1.0" filter="url(#b05)"/>
<ellipse cx="202.0" cy="694.4" rx="5.5" ry="1.5" fill="#3a80ff" opacity="0.9" filter="url(#b05)"/>
<rect x="212.0" y="691.2" width="17.0" height="7.6" rx="2.6" fill="#0a20f0" opacity="0.95" filter="url(#b1)"/>
<rect x="212.8" y="692.5" width="15.5" height="5.0" rx="2.5" fill="#1444ff" opacity="1.0" filter="url(#b05)"/>
<ellipse cx="221.5" cy="694.6" rx="5.5" ry="1.5" fill="#3a80ff" opacity="0.9" filter="url(#b05)"/>
<rect x="229.5" y="692.6" width="17.0" height="7.6" rx="2.6" fill="#0a20f0" opacity="0.95" filter="url(#b1)"/>
<rect x="230.2" y="693.9" width="15.5" height="5.0" rx="2.5" fill="#1444ff" opacity="1.0" filter="url(#b05)"/>
<ellipse cx="239.0" cy="696.0" rx="5.5" ry="1.5" fill="#3a80ff" opacity="0.9" filter="url(#b05)"/>
<rect x="247.5" y="692.6" width="17.0" height="7.6" rx="2.6" fill="#0a20f0" opacity="0.95" filter="url(#b1)"/>
<rect x="248.2" y="693.9" width="15.5" height="5.0" rx="2.5" fill="#1444ff" opacity="1.0" filter="url(#b05)"/>
<ellipse cx="257.0" cy="696.0" rx="5.5" ry="1.5" fill="#3a80ff" opacity="0.9" filter="url(#b05)"/>
<rect x="265.0" y="692.2" width="17.0" height="7.6" rx="2.6" fill="#0a20f0" opacity="0.6649999999999999" filter="url(#b1)"/>
<rect x="265.8" y="693.5" width="15.5" height="5.0" rx="2.5" fill="#1444ff" opacity="0.7" filter="url(#b05)"/>
<rect x="282.0" y="692.2" width="17.0" height="7.6" rx="2.6" fill="#0a20f0" opacity="0.6649999999999999" filter="url(#b1)"/>
<rect x="282.8" y="693.5" width="15.5" height="5.0" rx="2.5" fill="#1444ff" opacity="0.7" filter="url(#b05)"/>
<rect x="299.5" y="692.0" width="17.0" height="7.6" rx="2.6" fill="#0a20f0" opacity="0.6649999999999999" filter="url(#b1)"/>
<rect x="300.2" y="693.3" width="15.5" height="5.0" rx="2.5" fill="#1444ff" opacity="0.7" filter="url(#b05)"/>
</g>
<g filter="url(#nz2)">
<rect x="103.8" y="716.1" width="212.0" height="3.6" rx="1.8" fill="#0a1cd0" opacity="0.9" filter="url(#b1)"/>
<rect x="102.8" y="715.5" width="17.5" height="5.0" rx="2.5" fill="#0c24f0" opacity="0.95" filter="url(#b1)"/>
<rect x="104.0" y="716.7" width="15.0" height="2.6" rx="1.3" fill="#1c4cff" opacity="1" filter="url(#b05)"/>
<rect x="119.8" y="715.9" width="17.5" height="5.0" rx="2.5" fill="#0c24f0" opacity="0.95" filter="url(#b1)"/>
<rect x="121.0" y="717.1" width="15.0" height="2.6" rx="1.3" fill="#1c4cff" opacity="1" filter="url(#b05)"/>
<rect x="137.8" y="715.7" width="17.5" height="5.0" rx="2.5" fill="#0c24f0" opacity="0.95" filter="url(#b1)"/>
<rect x="139.0" y="716.9" width="15.0" height="2.6" rx="1.3" fill="#1c4cff" opacity="1" filter="url(#b05)"/>
<rect x="156.2" y="715.1" width="17.5" height="5.0" rx="2.5" fill="#0c24f0" opacity="0.95" filter="url(#b1)"/>
<rect x="157.5" y="716.3" width="15.0" height="2.6" rx="1.3" fill="#1c4cff" opacity="1" filter="url(#b05)"/>
<rect x="173.8" y="714.7" width="17.5" height="5.0" rx="2.5" fill="#0c24f0" opacity="0.95" filter="url(#b1)"/>
<rect x="175.0" y="715.9" width="15.0" height="2.6" rx="1.3" fill="#1c4cff" opacity="1" filter="url(#b05)"/>
<rect x="192.2" y="714.9" width="17.5" height="5.0" rx="2.5" fill="#0c24f0" opacity="0.95" filter="url(#b1)"/>
<rect x="193.5" y="716.1" width="15.0" height="2.6" rx="1.3" fill="#1c4cff" opacity="1" filter="url(#b05)"/>
<rect x="211.8" y="715.1" width="17.5" height="5.0" rx="2.5" fill="#0c24f0" opacity="0.95" filter="url(#b1)"/>
<rect x="213.0" y="716.3" width="15.0" height="2.6" rx="1.3" fill="#1c4cff" opacity="1" filter="url(#b05)"/>
<rect x="229.2" y="715.7" width="17.5" height="5.0" rx="2.5" fill="#0c24f0" opacity="0.95" filter="url(#b1)"/>
<rect x="230.5" y="716.9" width="15.0" height="2.6" rx="1.3" fill="#1c4cff" opacity="1" filter="url(#b05)"/>
<rect x="247.2" y="715.9" width="17.5" height="5.0" rx="2.5" fill="#0c24f0" opacity="0.95" filter="url(#b1)"/>
<rect x="248.5" y="717.1" width="15.0" height="2.6" rx="1.3" fill="#1c4cff" opacity="1" filter="url(#b05)"/>
<rect x="264.8" y="715.5" width="17.5" height="5.0" rx="2.5" fill="#0c24f0" opacity="0.95" filter="url(#b1)"/>
<rect x="266.0" y="716.7" width="15.0" height="2.6" rx="1.3" fill="#1c4cff" opacity="1" filter="url(#b05)"/>
<rect x="281.8" y="714.9" width="17.5" height="5.0" rx="2.5" fill="#0c24f0" opacity="0.95" filter="url(#b1)"/>
<rect x="283.0" y="716.1" width="15.0" height="2.6" rx="1.3" fill="#1c4cff" opacity="1" filter="url(#b05)"/>
<rect x="299.2" y="714.7" width="17.5" height="5.0" rx="2.5" fill="#0c24f0" opacity="0.95" filter="url(#b1)"/>
<rect x="300.5" y="715.9" width="15.0" height="2.6" rx="1.3" fill="#1c4cff" opacity="1" filter="url(#b05)"/>
</g>
</g>
<path d="M99.7 685.0V726.0" stroke="#f4f4f4" stroke-width="0.9"/>
<path d="M156.8 685.0V726.0" stroke="#f4f4f4" stroke-width="0.9"/>
<path d="M211.5 685.0V726.0" stroke="#f4f4f4" stroke-width="0.9"/>
<path d="M264.5 685.0V726.0" stroke="#f4f4f4" stroke-width="0.9"/>
<path d="M77.5 708.5H316.6" stroke="#f4f4f4" stroke-width="0.9"/>
<rect x="77.5" y="734.4" width="239.1" height="47.2" fill="#000"/>
<rect x="77.5" y="758.4" width="239.10000000000002" height="23.2" fill="#03031e"/>
<g clip-path="url(#cL2)">
<path d="M81.6 736.4Q89 736 95.6 737.6Q96.8 740 95.6 742.4Q88 742.6 82 741Q80.6 738.6 81.6 736.4Z" fill="#149cff" filter="url(#b1)"/>
<ellipse cx="88.6" cy="739.2" rx="5.5" ry="1.5" fill="#40e8ff" opacity="1.0" filter="url(#b05)"/>
<ellipse cx="83.5" cy="757.6" rx="4.0" ry="0.8" fill="#1030ff" opacity="0.8" filter="url(#b05)"/>
<g filter="url(#nz2)">
<ellipse cx="111.5" cy="751.0" rx="7.5" ry="6.5" fill="#080870" opacity="0.75" filter="url(#b3)"/>
<rect x="103.2" y="742.1" width="16.5" height="5.8" rx="2.6" fill="#0a20f0" opacity="0.95" filter="url(#b1)"/>
<rect x="104.2" y="743.3" width="14.5" height="3.4" rx="1.7" fill="#1444ff" opacity="1" filter="url(#b05)"/>
<ellipse cx="111.5" cy="744.7" rx="5.0" ry="1.0" fill="#3c84ff" opacity="0.9" filter="url(#b05)"/>
<ellipse cx="128.5" cy="752.0" rx="7.5" ry="6.5" fill="#080870" opacity="0.75" filter="url(#b3)"/>
<rect x="120.2" y="743.1" width="16.5" height="5.8" rx="2.6" fill="#0a20f0" opacity="0.95" filter="url(#b1)"/>
<rect x="121.2" y="744.3" width="14.5" height="3.4" rx="1.7" fill="#1444ff" opacity="1" filter="url(#b05)"/>
<ellipse cx="128.5" cy="745.7" rx="5.0" ry="1.0" fill="#3c84ff" opacity="0.9" filter="url(#b05)"/>
<ellipse cx="146.5" cy="752.6" rx="7.5" ry="6.5" fill="#080870" opacity="0.75" filter="url(#b3)"/>
<rect x="138.2" y="743.7" width="16.5" height="5.8" rx="2.6" fill="#0a20f0" opacity="0.95" filter="url(#b1)"/>
<rect x="139.2" y="744.9" width="14.5" height="3.4" rx="1.7" fill="#1444ff" opacity="1" filter="url(#b05)"/>
<ellipse cx="146.5" cy="746.3" rx="5.0" ry="1.0" fill="#3c84ff" opacity="0.9" filter="url(#b05)"/>
<rect x="156.8" y="745.1" width="16.5" height="5.8" rx="2.6" fill="#0a20f0" opacity="0.95" filter="url(#b1)"/>
<rect x="157.8" y="746.3" width="14.5" height="3.4" rx="1.7" fill="#1444ff" opacity="1" filter="url(#b05)"/>
<ellipse cx="165.0" cy="747.7" rx="5.0" ry="1.0" fill="#3c84ff" opacity="0.9" filter="url(#b05)"/>
<rect x="174.2" y="745.1" width="16.5" height="5.8" rx="2.6" fill="#0a20f0" opacity="0.95" filter="url(#b1)"/>
<rect x="175.2" y="746.3" width="14.5" height="3.4" rx="1.7" fill="#1444ff" opacity="1" filter="url(#b05)"/>
<ellipse cx="182.5" cy="747.7" rx="5.0" ry="1.0" fill="#3c84ff" opacity="0.9" filter="url(#b05)"/>
<rect x="192.8" y="744.7" width="16.5" height="5.8" rx="2.6" fill="#0a20f0" opacity="0.95" filter="url(#b1)"/>
<rect x="193.8" y="745.9" width="14.5" height="3.4" rx="1.7" fill="#1444ff" opacity="1" filter="url(#b05)"/>
<ellipse cx="201.0" cy="747.3" rx="5.0" ry="1.0" fill="#3c84ff" opacity="0.9" filter="url(#b05)"/>
<ellipse cx="220.5" cy="753.6" rx="7.5" ry="6.5" fill="#080870" opacity="0.45" filter="url(#b3)"/>
<rect x="212.2" y="744.7" width="16.5" height="5.8" rx="2.6" fill="#0a20f0" opacity="0.95" filter="url(#b1)"/>
<rect x="213.2" y="745.9" width="14.5" height="3.4" rx="1.7" fill="#1444ff" opacity="1" filter="url(#b05)"/>
<ellipse cx="220.5" cy="747.3" rx="5.0" ry="1.0" fill="#3c84ff" opacity="0.9" filter="url(#b05)"/>
<ellipse cx="238.0" cy="753.0" rx="7.5" ry="6.5" fill="#080870" opacity="0.45" filter="url(#b3)"/>
<rect x="229.8" y="744.1" width="16.5" height="5.8" rx="2.6" fill="#0a20f0" opacity="0.95" filter="url(#b1)"/>
<rect x="230.8" y="745.3" width="14.5" height="3.4" rx="1.7" fill="#1444ff" opacity="1" filter="url(#b05)"/>
<ellipse cx="238.0" cy="746.7" rx="5.0" ry="1.0" fill="#3c84ff" opacity="0.9" filter="url(#b05)"/>
<ellipse cx="256.0" cy="751.6" rx="7.5" ry="6.5" fill="#080870" opacity="0.45" filter="url(#b3)"/>
<rect x="247.8" y="742.7" width="16.5" height="5.8" rx="2.6" fill="#0a20f0" opacity="0.95" filter="url(#b1)"/>
<rect x="248.8" y="743.9" width="14.5" height="3.4" rx="1.7" fill="#1444ff" opacity="1" filter="url(#b05)"/>
<ellipse cx="256.0" cy="745.3" rx="5.0" ry="1.0" fill="#3c84ff" opacity="0.9" filter="url(#b05)"/>
<rect x="265.2" y="741.7" width="16.5" height="5.8" rx="2.6" fill="#0a20f0" opacity="0.95" filter="url(#b1)"/>
<rect x="266.2" y="742.9" width="14.5" height="3.4" rx="1.7" fill="#1444ff" opacity="1" filter="url(#b05)"/>
<ellipse cx="273.5" cy="744.3" rx="5.0" ry="1.0" fill="#3c84ff" opacity="0.9" filter="url(#b05)"/>
<rect x="282.2" y="741.1" width="16.5" height="5.8" rx="2.6" fill="#0a20f0" opacity="0.95" filter="url(#b1)"/>
<rect x="283.2" y="742.3" width="14.5" height="3.4" rx="1.7" fill="#1444ff" opacity="1" filter="url(#b05)"/>
<ellipse cx="290.5" cy="743.7" rx="5.0" ry="1.0" fill="#3c84ff" opacity="0.9" filter="url(#b05)"/>
<rect x="299.8" y="741.5" width="16.5" height="5.8" rx="2.6" fill="#0a20f0" opacity="0.95" filter="url(#b1)"/>
<rect x="300.8" y="742.7" width="14.5" height="3.4" rx="1.7" fill="#1444ff" opacity="1" filter="url(#b05)"/>
<ellipse cx="308.0" cy="744.1" rx="5.0" ry="1.0" fill="#3c84ff" opacity="0.9" filter="url(#b05)"/>
<rect x="103.0" y="764.0" width="17.0" height="6.8" rx="2.6" fill="#0a1ee8" opacity="0.95" filter="url(#b1)"/>
<rect x="104.0" y="765.4" width="15.0" height="4.0" rx="2.0" fill="#1238ff" opacity="1" filter="url(#b05)"/>
<rect x="120.0" y="764.6" width="17.0" height="6.8" rx="2.6" fill="#0a1ee8" opacity="0.95" filter="url(#b1)"/>
<rect x="121.0" y="766.0" width="15.0" height="4.0" rx="2.0" fill="#1238ff" opacity="1" filter="url(#b05)"/>
<rect x="138.0" y="765.0" width="17.0" height="6.8" rx="2.6" fill="#0a1ee8" opacity="0.95" filter="url(#b1)"/>
<rect x="139.0" y="766.4" width="15.0" height="4.0" rx="2.0" fill="#1238ff" opacity="1" filter="url(#b05)"/>
<rect x="156.5" y="767.6" width="17.0" height="6.8" rx="2.6" fill="#0a1ee8" opacity="0.95" filter="url(#b1)"/>
<rect x="157.5" y="769.0" width="15.0" height="4.0" rx="2.0" fill="#1238ff" opacity="1" filter="url(#b05)"/>
<rect x="174.0" y="767.6" width="17.0" height="6.8" rx="2.6" fill="#0a1ee8" opacity="0.95" filter="url(#b1)"/>
<rect x="175.0" y="769.0" width="15.0" height="4.0" rx="2.0" fill="#1238ff" opacity="1" filter="url(#b05)"/>
<rect x="192.5" y="767.8" width="17.0" height="6.8" rx="2.6" fill="#0a1ee8" opacity="0.95" filter="url(#b1)"/>
<rect x="193.5" y="769.2" width="15.0" height="4.0" rx="2.0" fill="#1238ff" opacity="1" filter="url(#b05)"/>
<rect x="212.0" y="769.0" width="17.0" height="6.8" rx="2.6" fill="#0a1ee8" opacity="0.95" filter="url(#b1)"/>
<rect x="213.0" y="770.4" width="15.0" height="4.0" rx="2.0" fill="#1238ff" opacity="1" filter="url(#b05)"/>
<rect x="229.5" y="768.6" width="17.0" height="6.8" rx="2.6" fill="#0a1ee8" opacity="0.95" filter="url(#b1)"/>
<rect x="230.5" y="770.0" width="15.0" height="4.0" rx="2.0" fill="#1238ff" opacity="1" filter="url(#b05)"/>
<rect x="247.5" y="768.2" width="17.0" height="6.8" rx="2.6" fill="#0a1ee8" opacity="0.95" filter="url(#b1)"/>
<rect x="248.5" y="769.6" width="15.0" height="4.0" rx="2.0" fill="#1238ff" opacity="1" filter="url(#b05)"/>
<rect x="265.0" y="765.6" width="17.0" height="6.8" rx="2.6" fill="#0a1ee8" opacity="0.95" filter="url(#b1)"/>
<rect x="266.0" y="767.0" width="15.0" height="4.0" rx="2.0" fill="#1238ff" opacity="1" filter="url(#b05)"/>
<rect x="282.0" y="766.0" width="17.0" height="6.8" rx="2.6" fill="#0a1ee8" opacity="0.95" filter="url(#b1)"/>
<rect x="283.0" y="767.4" width="15.0" height="4.0" rx="2.0" fill="#1238ff" opacity="1" filter="url(#b05)"/>
<rect x="299.5" y="766.6" width="17.0" height="6.8" rx="2.6" fill="#0a1ee8" opacity="0.95" filter="url(#b1)"/>
<rect x="300.5" y="768.0" width="15.0" height="4.0" rx="2.0" fill="#1238ff" opacity="1" filter="url(#b05)"/>
</g>
</g>
<path d="M99.7 734.4V781.6" stroke="#f4f4f4" stroke-width="0.9"/>
<path d="M156.8 734.4V781.6" stroke="#f4f4f4" stroke-width="0.9"/>
<path d="M211.5 734.4V781.6" stroke="#f4f4f4" stroke-width="0.9"/>
<path d="M264.5 734.4V781.6" stroke="#f4f4f4" stroke-width="0.9"/>
<path d="M77.5 758.4H316.6" stroke="#f4f4f4" stroke-width="0.9"/>
<rect x="77.5" y="790.5" width="239.1" height="76.0" fill="#000"/>
<g clip-path="url(#cL3a)">
<g filter="url(#nz2)">
<rect x="81.1" y="813.4" width="15.0" height="6.0" rx="2.6" fill="#1030ff" opacity="1" filter="url(#b1)" transform="rotate(3 88.6 816.4)"/>
<rect x="83.1" y="814.8" width="11.0" height="2.8" rx="1.4" fill="#3c8cff" opacity="1" filter="url(#b05)" transform="rotate(3 88.6 816.2)"/>
<rect x="81.3" y="833.6" width="15.0" height="6.0" rx="2.6" fill="#1030ff" opacity="1" filter="url(#b1)" transform="rotate(9 88.8 836.6)"/>
<rect x="83.8" y="835.2" width="10.0" height="2.4" rx="1.2" fill="#2c6cff" opacity="0.9" filter="url(#b05)" transform="rotate(9 88.8 836.4)"/>
<ellipse cx="93.4" cy="826.0" rx="1.0" ry="8.0" fill="#0a1ad8" opacity="0.2" filter="url(#b1)"/>
</g>
<g filter="url(#nz2)">
<path d="M106.2 797.5H117.8L118.2 806Q119.6 811 119.5 817Q119.3 823 118.0 828.5H106.0Q104.7 823 104.5 817Q104.4 811 105.8 806Z" fill="url(#tauG)" filter="url(#b1)"/>
<ellipse cx="112.0" cy="799.6" rx="6.0" ry="1.1" fill="#1224d8" opacity="0.6" filter="url(#b1)"/>
<ellipse cx="112.0" cy="814.4" rx="7.5" ry="3.5" fill="#142cf8" opacity="0.95" filter="url(#b2)"/>
<ellipse cx="112.0" cy="821.6" rx="7.0" ry="2.2" fill="#1024e4" opacity="0.8" filter="url(#b2)"/>
<ellipse cx="112.0" cy="813.8" rx="5.0" ry="1.4" fill="#2c5cff" opacity="0.9" filter="url(#b1)"/>
<ellipse cx="112.0" cy="832.8" rx="6.5" ry="1.3" fill="#1028e8" opacity="0.95" filter="url(#b1)"/>
<path d="M123.6 797.5H135.2L135.6 806Q137.0 811 136.9 817Q136.7 823 135.4 828.5H123.4Q122.1 823 121.9 817Q121.8 811 123.2 806Z" fill="url(#tauG)" filter="url(#b1)"/>
<ellipse cx="129.4" cy="799.6" rx="6.0" ry="1.1" fill="#1224d8" opacity="0.6" filter="url(#b1)"/>
<ellipse cx="129.4" cy="814.4" rx="7.5" ry="3.5" fill="#142cf8" opacity="0.95" filter="url(#b2)"/>
<ellipse cx="129.4" cy="821.6" rx="7.0" ry="2.2" fill="#1024e4" opacity="0.8" filter="url(#b2)"/>
<ellipse cx="130.4" cy="813.8" rx="5.0" ry="1.4" fill="#2c5cff" opacity="0.9" filter="url(#b1)"/>
<ellipse cx="129.4" cy="832.8" rx="6.5" ry="1.3" fill="#1028e8" opacity="0.95" filter="url(#b1)"/>
<path d="M140.8 797.5H152.4L152.8 806Q154.2 811 154.1 817Q153.9 823 152.6 828.5H140.6Q139.3 823 139.1 817Q139.0 811 140.4 806Z" fill="url(#tauG)" filter="url(#b1)"/>
<ellipse cx="146.6" cy="799.6" rx="6.0" ry="1.1" fill="#1224d8" opacity="0.6" filter="url(#b1)"/>
<ellipse cx="146.6" cy="814.4" rx="7.5" ry="3.5" fill="#142cf8" opacity="0.95" filter="url(#b2)"/>
<ellipse cx="146.6" cy="821.6" rx="7.0" ry="2.2" fill="#1024e4" opacity="0.8" filter="url(#b2)"/>
<ellipse cx="146.6" cy="813.8" rx="5.0" ry="1.4" fill="#2c5cff" opacity="0.9" filter="url(#b1)"/>
<ellipse cx="146.6" cy="832.8" rx="6.5" ry="1.3" fill="#1028e8" opacity="0.95" filter="url(#b1)"/>
<path d="M159.2 797.5H170.8L171.2 806Q172.6 811 172.5 817Q172.3 823 171.0 828.5H159.0Q157.7 823 157.5 817Q157.4 811 158.8 806Z" fill="url(#tauG)" filter="url(#b1)"/>
<ellipse cx="165.0" cy="799.6" rx="6.0" ry="1.1" fill="#1224d8" opacity="0.6" filter="url(#b1)"/>
<ellipse cx="165.0" cy="814.4" rx="7.5" ry="3.5" fill="#142cf8" opacity="0.95" filter="url(#b2)"/>
<ellipse cx="165.0" cy="821.6" rx="7.0" ry="2.2" fill="#1024e4" opacity="0.8" filter="url(#b2)"/>
<ellipse cx="165.0" cy="813.8" rx="5.0" ry="1.4" fill="#2c5cff" opacity="0.9" filter="url(#b1)"/>
<ellipse cx="165.0" cy="832.8" rx="6.5" ry="1.3" fill="#1028e8" opacity="0.95" filter="url(#b1)"/>
<path d="M176.6 797.5H188.2L188.6 806Q190.0 811 189.9 817Q189.7 823 188.4 828.5H176.4Q175.1 823 174.9 817Q174.8 811 176.2 806Z" fill="url(#tauG)" filter="url(#b1)"/>
<ellipse cx="182.4" cy="799.6" rx="6.0" ry="1.1" fill="#1224d8" opacity="0.6" filter="url(#b1)"/>
<ellipse cx="182.4" cy="814.4" rx="7.5" ry="3.5" fill="#142cf8" opacity="0.95" filter="url(#b2)"/>
<ellipse cx="182.4" cy="821.6" rx="7.0" ry="2.2" fill="#1024e4" opacity="0.8" filter="url(#b2)"/>
<ellipse cx="182.4" cy="813.8" rx="5.0" ry="1.4" fill="#2c5cff" opacity="0.9" filter="url(#b1)"/>
<ellipse cx="182.4" cy="832.8" rx="6.5" ry="1.3" fill="#1028e8" opacity="0.95" filter="url(#b1)"/>
<path d="M194.6 797.5H206.2L206.6 806Q208.0 811 207.9 817Q207.7 823 206.4 828.5H194.4Q193.1 823 192.9 817Q192.8 811 194.2 806Z" fill="url(#tauG)" filter="url(#b1)"/>
<ellipse cx="200.4" cy="799.6" rx="6.0" ry="1.1" fill="#1224d8" opacity="0.6" filter="url(#b1)"/>
<ellipse cx="200.4" cy="814.4" rx="7.5" ry="3.5" fill="#142cf8" opacity="0.95" filter="url(#b2)"/>
<ellipse cx="200.4" cy="821.6" rx="7.0" ry="2.2" fill="#1024e4" opacity="0.8" filter="url(#b2)"/>
<ellipse cx="201.4" cy="813.8" rx="5.0" ry="1.4" fill="#2c5cff" opacity="0.9" filter="url(#b1)"/>
<ellipse cx="200.4" cy="832.8" rx="6.5" ry="1.3" fill="#1028e8" opacity="0.95" filter="url(#b1)"/>
</g>
<ellipse cx="220.5" cy="833.2" rx="7.0" ry="0.9" fill="#0c1cc8" opacity="0.8" filter="url(#b05)"/>
<ellipse cx="238.0" cy="832.8" rx="7.0" ry="0.9" fill="#0c1cc8" opacity="0.5800000000000001" filter="url(#b05)"/>
<ellipse cx="256.0" cy="832.4" rx="7.0" ry="0.9" fill="#0c1cc8" opacity="0.36000000000000004" filter="url(#b05)"/>
<path d="M265.2 830.2Q271 829.6 277 828.2Q289 826.6 299 827.6Q308 828.4 316 828.2" stroke="#0c22d8" stroke-width="1.7" fill="none" opacity="0.7" filter="url(#b05)"/>
<ellipse cx="313.0" cy="811.0" rx="2.0" ry="1.5" fill="#0c1cc0" opacity="0.4" filter="url(#b05)"/>
</g>
<g clip-path="url(#cL3)"><g filter="url(#nz2)">
<rect x="104.2" y="852.3" width="17.5" height="5.8" rx="2.6" fill="#0a20ec" opacity="0.95" filter="url(#b1)"/>
<rect x="105.2" y="853.5" width="15.5" height="3.4" rx="1.7" fill="#1640ff" opacity="1" filter="url(#b05)"/>
<ellipse cx="113.0" cy="855.2" rx="5.0" ry="0.8" fill="#3c80ff" opacity="0.95" filter="url(#b05)"/>
<rect x="122.2" y="852.9" width="17.5" height="5.8" rx="2.6" fill="#0a20ec" opacity="0.95" filter="url(#b1)"/>
<rect x="123.2" y="854.1" width="15.5" height="3.4" rx="1.7" fill="#1640ff" opacity="1" filter="url(#b05)"/>
<ellipse cx="131.0" cy="855.8" rx="5.0" ry="0.8" fill="#3c80ff" opacity="0.95" filter="url(#b05)"/>
<rect x="139.8" y="852.3" width="17.5" height="5.8" rx="2.6" fill="#0a20ec" opacity="0.95" filter="url(#b1)"/>
<rect x="140.8" y="853.5" width="15.5" height="3.4" rx="1.7" fill="#1640ff" opacity="1" filter="url(#b05)"/>
<ellipse cx="148.5" cy="855.2" rx="5.0" ry="0.8" fill="#3c80ff" opacity="0.95" filter="url(#b05)"/>
<rect x="157.2" y="851.3" width="17.5" height="5.8" rx="2.6" fill="#0a20ec" opacity="0.95" filter="url(#b1)"/>
<rect x="158.2" y="852.5" width="15.5" height="3.4" rx="1.7" fill="#1640ff" opacity="1" filter="url(#b05)"/>
<ellipse cx="166.0" cy="854.2" rx="5.0" ry="0.8" fill="#3c80ff" opacity="0.95" filter="url(#b05)"/>
<rect x="174.8" y="851.7" width="17.5" height="5.8" rx="2.6" fill="#0a20ec" opacity="0.95" filter="url(#b1)"/>
<rect x="175.8" y="852.9" width="15.5" height="3.4" rx="1.7" fill="#1640ff" opacity="1" filter="url(#b05)"/>
<ellipse cx="183.5" cy="854.6" rx="5.0" ry="0.8" fill="#3c80ff" opacity="0.95" filter="url(#b05)"/>
<rect x="192.2" y="852.5" width="17.5" height="5.8" rx="2.6" fill="#0a20ec" opacity="0.95" filter="url(#b1)"/>
<rect x="193.2" y="853.7" width="15.5" height="3.4" rx="1.7" fill="#1640ff" opacity="1" filter="url(#b05)"/>
<ellipse cx="201.0" cy="855.4" rx="5.0" ry="0.8" fill="#3c80ff" opacity="0.95" filter="url(#b05)"/>
<rect x="211.8" y="853.5" width="17.5" height="5.8" rx="2.6" fill="#0a20ec" opacity="0.95" filter="url(#b1)"/>
<rect x="212.8" y="854.7" width="15.5" height="3.4" rx="1.7" fill="#1640ff" opacity="1" filter="url(#b05)"/>
<ellipse cx="220.5" cy="856.4" rx="5.0" ry="0.8" fill="#3c80ff" opacity="0.95" filter="url(#b05)"/>
<rect x="229.2" y="852.7" width="17.5" height="5.8" rx="2.6" fill="#0a20ec" opacity="0.95" filter="url(#b1)"/>
<rect x="230.2" y="853.9" width="15.5" height="3.4" rx="1.7" fill="#1640ff" opacity="1" filter="url(#b05)"/>
<ellipse cx="238.0" cy="855.6" rx="5.0" ry="0.8" fill="#3c80ff" opacity="0.95" filter="url(#b05)"/>
<rect x="247.2" y="851.3" width="17.5" height="5.8" rx="2.6" fill="#0a20ec" opacity="0.95" filter="url(#b1)"/>
<rect x="248.2" y="852.5" width="15.5" height="3.4" rx="1.7" fill="#1640ff" opacity="1" filter="url(#b05)"/>
<ellipse cx="256.0" cy="854.2" rx="5.0" ry="0.8" fill="#3c80ff" opacity="0.95" filter="url(#b05)"/>
<rect x="264.8" y="849.7" width="17.5" height="5.8" rx="2.6" fill="#0a20ec" opacity="0.95" filter="url(#b1)"/>
<rect x="265.8" y="850.9" width="15.5" height="3.4" rx="1.7" fill="#1640ff" opacity="1" filter="url(#b05)"/>
<ellipse cx="273.5" cy="852.6" rx="5.0" ry="0.8" fill="#3c80ff" opacity="0.95" filter="url(#b05)"/>
<rect x="281.8" y="848.1" width="17.5" height="5.8" rx="2.6" fill="#0a20ec" opacity="0.95" filter="url(#b1)"/>
<rect x="282.8" y="849.3" width="15.5" height="3.4" rx="1.7" fill="#1640ff" opacity="1" filter="url(#b05)"/>
<ellipse cx="290.5" cy="851.0" rx="5.0" ry="0.8" fill="#3c80ff" opacity="0.95" filter="url(#b05)"/>
<rect x="299.2" y="847.9" width="17.5" height="5.8" rx="2.6" fill="#0a20ec" opacity="0.95" filter="url(#b1)"/>
<rect x="300.2" y="849.1" width="15.5" height="3.4" rx="1.7" fill="#1640ff" opacity="1" filter="url(#b05)"/>
<ellipse cx="308.0" cy="850.8" rx="5.0" ry="0.8" fill="#3c80ff" opacity="0.95" filter="url(#b05)"/>
</g></g>
<path d="M99.7 790.5V866.5" stroke="#f4f4f4" stroke-width="0.9"/>
<path d="M156.8 790.5V866.5" stroke="#f4f4f4" stroke-width="0.9"/>
<path d="M211.5 790.5V866.5" stroke="#f4f4f4" stroke-width="0.9"/>
<path d="M264.5 790.5V866.5" stroke="#f4f4f4" stroke-width="0.9"/>
<path d="M77.5 842.3H316.6" stroke="#f4f4f4" stroke-width="0.9"/>
<rect x="461.4" y="685.6" width="236.0" height="41.0" fill="#000"/>
<g clip-path="url(#cR1)"><g filter="url(#nz2)">
<rect x="495.5" y="698.9" width="12.0" height="5.0" rx="2.5" fill="#0a20ec" opacity="0.95" filter="url(#b1)" transform="rotate(9 501.5 701.4)"/>
<rect x="496.5" y="699.9" width="10.0" height="3.0" rx="1.5" fill="#1a50ff" opacity="1" filter="url(#b05)" transform="rotate(9 501.5 701.4)"/>
<rect x="514.0" y="700.1" width="14.0" height="6.6" rx="2.6" fill="#0a20ec" opacity="0.95" filter="url(#b1)" transform="rotate(9 521.0 703.4)"/>
<rect x="515.0" y="701.1" width="12.0" height="4.6" rx="2.3" fill="#1a50ff" opacity="1" filter="url(#b05)" transform="rotate(9 521.0 703.4)"/>
<ellipse cx="521.0" cy="703.4" rx="4.4" ry="1.3" fill="#3080ff" opacity="0.95" filter="url(#b05)" transform="rotate(9 521.0 703.4)"/>
<rect x="528.8" y="701.6" width="15.5" height="7.6" rx="2.6" fill="#0a20ec" opacity="0.95" filter="url(#b1)" transform="rotate(9 536.5 705.4)"/>
<rect x="529.8" y="702.6" width="13.5" height="5.6" rx="2.6" fill="#1a50ff" opacity="1" filter="url(#b05)" transform="rotate(9 536.5 705.4)"/>
<ellipse cx="536.5" cy="705.4" rx="5.0" ry="1.6" fill="#58d0ff" opacity="0.95" filter="url(#b05)" transform="rotate(9 536.5 705.4)"/>
<ellipse cx="536.5" cy="705.4" rx="3.4" ry="0.8" fill="#e0fcff" opacity="0.95" filter="url(#b05)"/>
<rect x="544.8" y="703.0" width="16.5" height="8.0" rx="2.6" fill="#0a20ec" opacity="0.95" filter="url(#b1)" transform="rotate(3 553.0 707.0)"/>
<rect x="545.8" y="704.0" width="14.5" height="6.0" rx="2.6" fill="#1a50ff" opacity="1" filter="url(#b05)" transform="rotate(3 553.0 707.0)"/>
<ellipse cx="553.0" cy="707.0" rx="5.4" ry="1.7" fill="#58d0ff" opacity="0.95" filter="url(#b05)" transform="rotate(3 553.0 707.0)"/>
<ellipse cx="553.0" cy="707.0" rx="3.6" ry="0.9" fill="#e0fcff" opacity="0.95" filter="url(#b05)"/>
<rect x="562.5" y="704.1" width="15.5" height="7.0" rx="2.6" fill="#0a20ec" opacity="0.95" filter="url(#b1)" transform="rotate(3 570.3 707.6)"/>
<rect x="563.5" y="705.1" width="13.5" height="5.0" rx="2.5" fill="#1a50ff" opacity="1" filter="url(#b05)" transform="rotate(3 570.3 707.6)"/>
<ellipse cx="570.3" cy="707.6" rx="5.0" ry="1.4" fill="#58d0ff" opacity="0.95" filter="url(#b05)" transform="rotate(3 570.3 707.6)"/>
<rect x="579.0" y="705.3" width="15.5" height="6.6" rx="2.6" fill="#0a20ec" opacity="0.95" filter="url(#b1)" transform="rotate(3 586.7 708.6)"/>
<rect x="580.0" y="706.3" width="13.5" height="4.6" rx="2.3" fill="#1a50ff" opacity="1" filter="url(#b05)" transform="rotate(3 586.7 708.6)"/>
<ellipse cx="586.7" cy="708.6" rx="5.0" ry="1.3" fill="#58d0ff" opacity="0.95" filter="url(#b05)" transform="rotate(3 586.7 708.6)"/>
<rect x="598.2" y="706.4" width="13.5" height="5.6" rx="2.6" fill="#0a20ec" opacity="0.95" filter="url(#b1)"/>
<rect x="599.2" y="707.4" width="11.5" height="3.6" rx="1.8" fill="#1a50ff" opacity="1" filter="url(#b05)"/>
<ellipse cx="605.0" cy="709.2" rx="4.3" ry="1.0" fill="#58d0ff" opacity="0.95" filter="url(#b05)"/>
<rect x="612.8" y="706.7" width="15.0" height="6.6" rx="2.6" fill="#0a20ec" opacity="0.95" filter="url(#b1)"/>
<rect x="613.8" y="707.7" width="13.0" height="4.6" rx="2.3" fill="#1a50ff" opacity="1" filter="url(#b05)"/>
<ellipse cx="620.3" cy="710.0" rx="4.8" ry="1.3" fill="#58d0ff" opacity="0.95" filter="url(#b05)"/>
<rect x="629.2" y="706.5" width="15.5" height="8.4" rx="2.6" fill="#0a20ec" opacity="0.95" filter="url(#b1)"/>
<rect x="630.2" y="707.5" width="13.5" height="6.4" rx="2.6" fill="#1a50ff" opacity="1" filter="url(#b05)"/>
<ellipse cx="637.0" cy="710.7" rx="5.0" ry="1.8" fill="#58d0ff" opacity="0.95" filter="url(#b05)"/>
<ellipse cx="637.0" cy="710.7" rx="3.4" ry="1.0" fill="#e0fcff" opacity="0.95" filter="url(#b05)"/>
<rect x="645.7" y="707.0" width="16.0" height="9.0" rx="2.6" fill="#0a20ec" opacity="0.95" filter="url(#b1)"/>
<rect x="646.7" y="708.0" width="14.0" height="7.0" rx="2.6" fill="#1a50ff" opacity="1" filter="url(#b05)"/>
<ellipse cx="653.7" cy="711.5" rx="5.2" ry="2.0" fill="#58d0ff" opacity="0.95" filter="url(#b05)"/>
<ellipse cx="653.7" cy="711.5" rx="3.5" ry="1.1" fill="#e0fcff" opacity="0.95" filter="url(#b05)"/>
<rect x="663.5" y="707.2" width="15.0" height="8.0" rx="2.6" fill="#0a20ec" opacity="0.95" filter="url(#b1)"/>
<rect x="664.5" y="708.2" width="13.0" height="6.0" rx="2.6" fill="#1a50ff" opacity="1" filter="url(#b05)"/>
<ellipse cx="671.0" cy="711.2" rx="4.8" ry="1.7" fill="#58d0ff" opacity="0.95" filter="url(#b05)"/>
<ellipse cx="671.0" cy="711.2" rx="3.2" ry="0.9" fill="#e0fcff" opacity="0.95" filter="url(#b05)"/>
<rect x="680.0" y="707.2" width="16.0" height="8.6" rx="2.6" fill="#0a20ec" opacity="0.95" filter="url(#b1)"/>
<rect x="681.0" y="708.2" width="14.0" height="6.6" rx="2.6" fill="#1a50ff" opacity="1" filter="url(#b05)"/>
<ellipse cx="688.0" cy="711.5" rx="5.2" ry="1.8" fill="#58d0ff" opacity="0.95" filter="url(#b05)"/>
<ellipse cx="688.0" cy="711.5" rx="3.5" ry="1.0" fill="#e0fcff" opacity="0.95" filter="url(#b05)"/>
</g>
<ellipse cx="625.6" cy="688.8" rx="1.3" ry="1.3" fill="#1030ff" opacity="0.9" filter="url(#b05)"/>
<ellipse cx="656.8" cy="691.6" rx="1.3" ry="1.5" fill="#0c28d8" opacity="0.9" filter="url(#b05)"/>
<ellipse cx="658.4" cy="696.0" rx="1.0" ry="1.0" fill="#0c28d8" opacity="0.7" filter="url(#b05)"/>
<ellipse cx="669.0" cy="690.0" rx="1.5" ry="0.8" fill="#0a1cb0" opacity="0.5" filter="url(#b05)"/>
<ellipse cx="651.6" cy="719.0" rx="1.0" ry="1.0" fill="#0c28d8" opacity="0.8" filter="url(#b05)"/>
<ellipse cx="536.0" cy="689.5" rx="1.5" ry="0.8" fill="#0c20c0" opacity="0.6" filter="url(#b05)"/>
<ellipse cx="569.0" cy="686.6" rx="2.0" ry="0.7" fill="#0c20c0" opacity="0.6" filter="url(#b05)"/>
</g>
<path d="M489.4 685.6V726.6" stroke="#f4f4f4" stroke-width="0.9"/>
<path d="M544.4 685.6V726.6" stroke="#f4f4f4" stroke-width="0.9"/>
<path d="M598.3 685.6V726.6" stroke="#f4f4f4" stroke-width="0.9"/>
<path d="M645.5 685.6V726.6" stroke="#f4f4f4" stroke-width="0.9"/>
<rect x="461.4" y="734.0" width="236.0" height="132.4" fill="#05055e"/>
<g clip-path="url(#cR2)">
<rect x="461.4" y="734" width="28" height="132.4" fill="#060668"/>
<rect x="459" y="732" width="10.5" height="136" fill="#010118" filter="url(#b2)"/>
<rect x="461.4" y="730" width="28" height="14" fill="#020228" filter="url(#b3)"/>
<rect x="461.4" y="848" width="14" height="22" fill="#010112" filter="url(#b2)"/>
<ellipse cx="478.0" cy="766.6" rx="10.5" ry="8.0" fill="#1c2cff" opacity="0.95" filter="url(#b2)"/>
<path d="M483.4 764L486.6 748L487.6 764Z" fill="#2030f0" filter="url(#b1)" opacity="0.8"/>
<ellipse cx="471.8" cy="839.0" rx="10.5" ry="8.0" fill="#1c2cff" opacity="0.95" filter="url(#b2)"/>
<ellipse cx="477.5" cy="751.0" rx="5.5" ry="1.5" fill="#000010" opacity="0.95" filter="url(#b1)"/>
<ellipse cx="474.0" cy="791.5" rx="5.5" ry="1.5" fill="#000010" opacity="0.95" filter="url(#b1)"/>
<ellipse cx="471.2" cy="811.0" rx="5.5" ry="1.5" fill="#000010" opacity="0.95" filter="url(#b1)"/>
<ellipse cx="468.0" cy="851.5" rx="5.5" ry="1.5" fill="#000010" opacity="0.95" filter="url(#b1)"/>
<path d="M472 765.2Q474.6 763.6 478.4 763.8Q481.6 762.8 483.6 761.8Q485.6 766.4 483.8 771.2Q480.6 772 477 770.6Q473.6 769.6 472 767.6Q471.4 766.4 472 765.2Z" fill="#fff" filter="url(#b05)"/>
<path d="M464.6 837.2Q468.6 836.2 472.6 835.6Q475.4 833.6 477.6 834Q480 839 478 843.4Q475.6 845 472.4 843.2Q468 842.2 464.8 840.6Q463.8 838.8 464.6 837.2Z" fill="#fff" filter="url(#b05)"/>
<rect x="498.2" y="734" width="13.6" height="133" fill="#09098a" opacity="0.62" filter="url(#b2)"/>
<rect x="515.8" y="734" width="13.6" height="133" fill="#09098a" opacity="0.62" filter="url(#b2)"/>
<rect x="532.5" y="734" width="13.6" height="133" fill="#09098a" opacity="0.62" filter="url(#b2)"/>
<rect x="548.7" y="734" width="13.6" height="133" fill="#09098a" opacity="0.62" filter="url(#b2)"/>
<rect x="564.8" y="734" width="13.6" height="133" fill="#09098a" opacity="0.62" filter="url(#b2)"/>
<rect x="581.0" y="734" width="13.6" height="133" fill="#09098a" opacity="0.62" filter="url(#b2)"/>
<rect x="598.6" y="734" width="13.6" height="133" fill="#09098a" opacity="0.62" filter="url(#b2)"/>
<rect x="613.9" y="734" width="13.6" height="133" fill="#09098a" opacity="0.62" filter="url(#b2)"/>
<rect x="630.3" y="734" width="13.6" height="133" fill="#09098a" opacity="0.62" filter="url(#b2)"/>
<rect x="646.2" y="734" width="13.6" height="133" fill="#09098a" opacity="0.62" filter="url(#b2)"/>
<rect x="663.2" y="734" width="13.6" height="133" fill="#09098a" opacity="0.62" filter="url(#b2)"/>
<rect x="679.4" y="734" width="13.6" height="133" fill="#09098a" opacity="0.62" filter="url(#b2)"/>
<ellipse cx="505.0" cy="795.0" rx="8.0" ry="3.0" fill="#1616cc" opacity="0.9" filter="url(#b2)"/>
<ellipse cx="505.0" cy="807.8" rx="8.0" ry="2.8" fill="#1212b4" opacity="0.75" filter="url(#b2)"/>
<ellipse cx="505.0" cy="819.0" rx="7.5" ry="2.2" fill="#1010a6" opacity="0.55" filter="url(#b2)"/>
<ellipse cx="505.0" cy="828.5" rx="7.0" ry="1.5" fill="#0f0fa0" opacity="0.35" filter="url(#b2)"/>
<ellipse cx="505.0" cy="839.0" rx="8.0" ry="2.8" fill="#1313b8" opacity="0.7" filter="url(#b2)"/>
<ellipse cx="505.0" cy="851.0" rx="7.0" ry="1.5" fill="#0e0e98" opacity="0.35" filter="url(#b2)"/>
<ellipse cx="522.6" cy="795.8" rx="8.0" ry="3.0" fill="#1616cc" opacity="0.9" filter="url(#b2)"/>
<ellipse cx="522.6" cy="808.6" rx="8.0" ry="2.8" fill="#1212b4" opacity="0.75" filter="url(#b2)"/>
<ellipse cx="522.6" cy="819.6" rx="7.5" ry="2.2" fill="#1010a6" opacity="0.55" filter="url(#b2)"/>
<ellipse cx="522.6" cy="829.1" rx="7.0" ry="1.5" fill="#0f0fa0" opacity="0.35" filter="url(#b2)"/>
<ellipse cx="522.6" cy="839.7" rx="8.0" ry="2.8" fill="#1313b8" opacity="0.7" filter="url(#b2)"/>
<ellipse cx="522.6" cy="851.6" rx="7.0" ry="1.5" fill="#0e0e98" opacity="0.35" filter="url(#b2)"/>
<ellipse cx="539.3" cy="796.6" rx="8.0" ry="3.0" fill="#1616cc" opacity="0.9" filter="url(#b2)"/>
<ellipse cx="539.3" cy="809.3" rx="8.0" ry="2.8" fill="#1212b4" opacity="0.75" filter="url(#b2)"/>
<ellipse cx="539.3" cy="820.2" rx="7.5" ry="2.2" fill="#1010a6" opacity="0.55" filter="url(#b2)"/>
<ellipse cx="539.3" cy="829.6" rx="7.0" ry="1.5" fill="#0f0fa0" opacity="0.35" filter="url(#b2)"/>
<ellipse cx="539.3" cy="840.3" rx="8.0" ry="2.8" fill="#1313b8" opacity="0.7" filter="url(#b2)"/>
<ellipse cx="539.3" cy="852.1" rx="7.0" ry="1.5" fill="#0e0e98" opacity="0.35" filter="url(#b2)"/>
<ellipse cx="555.5" cy="797.4" rx="8.0" ry="3.0" fill="#1616cc" opacity="0.9" filter="url(#b2)"/>
<ellipse cx="555.5" cy="810.0" rx="8.0" ry="2.8" fill="#1212b4" opacity="0.75" filter="url(#b2)"/>
<ellipse cx="555.5" cy="820.8" rx="7.5" ry="2.2" fill="#1010a6" opacity="0.55" filter="url(#b2)"/>
<ellipse cx="555.5" cy="830.2" rx="7.0" ry="1.5" fill="#0f0fa0" opacity="0.35" filter="url(#b2)"/>
<ellipse cx="555.5" cy="841.0" rx="8.0" ry="2.8" fill="#1313b8" opacity="0.7" filter="url(#b2)"/>
<ellipse cx="555.5" cy="852.7" rx="7.0" ry="1.5" fill="#0e0e98" opacity="0.35" filter="url(#b2)"/>
<ellipse cx="571.6" cy="798.1" rx="8.0" ry="3.0" fill="#1616cc" opacity="0.9" filter="url(#b2)"/>
<ellipse cx="571.6" cy="810.7" rx="8.0" ry="2.8" fill="#1212b4" opacity="0.75" filter="url(#b2)"/>
<ellipse cx="571.6" cy="821.4" rx="7.5" ry="2.2" fill="#1010a6" opacity="0.55" filter="url(#b2)"/>
<ellipse cx="571.6" cy="830.7" rx="7.0" ry="1.5" fill="#0f0fa0" opacity="0.35" filter="url(#b2)"/>
<ellipse cx="571.6" cy="841.6" rx="8.0" ry="2.8" fill="#1313b8" opacity="0.7" filter="url(#b2)"/>
<ellipse cx="571.6" cy="853.2" rx="7.0" ry="1.5" fill="#0e0e98" opacity="0.35" filter="url(#b2)"/>
<ellipse cx="587.8" cy="798.9" rx="8.0" ry="3.0" fill="#1616cc" opacity="0.9" filter="url(#b2)"/>
<ellipse cx="587.8" cy="811.5" rx="8.0" ry="2.8" fill="#1212b4" opacity="0.75" filter="url(#b2)"/>
<ellipse cx="587.8" cy="822.0" rx="7.5" ry="2.2" fill="#1010a6" opacity="0.55" filter="url(#b2)"/>
<ellipse cx="587.8" cy="831.2" rx="7.0" ry="1.5" fill="#0f0fa0" opacity="0.35" filter="url(#b2)"/>
<ellipse cx="587.8" cy="842.2" rx="8.0" ry="2.8" fill="#1313b8" opacity="0.7" filter="url(#b2)"/>
<ellipse cx="587.8" cy="853.7" rx="7.0" ry="1.5" fill="#0e0e98" opacity="0.35" filter="url(#b2)"/>
<ellipse cx="605.4" cy="799.7" rx="8.0" ry="3.0" fill="#1616cc" opacity="0.9" filter="url(#b2)"/>
<ellipse cx="605.4" cy="812.2" rx="8.0" ry="2.8" fill="#1212b4" opacity="0.75" filter="url(#b2)"/>
<ellipse cx="605.4" cy="822.6" rx="7.5" ry="2.2" fill="#1010a6" opacity="0.55" filter="url(#b2)"/>
<ellipse cx="605.4" cy="831.8" rx="7.0" ry="1.5" fill="#0f0fa0" opacity="0.35" filter="url(#b2)"/>
<ellipse cx="605.4" cy="842.9" rx="8.0" ry="2.8" fill="#1313b8" opacity="0.7" filter="url(#b2)"/>
<ellipse cx="605.4" cy="854.3" rx="7.0" ry="1.5" fill="#0e0e98" opacity="0.35" filter="url(#b2)"/>
<ellipse cx="620.7" cy="800.4" rx="8.0" ry="3.0" fill="#1616cc" opacity="0.9" filter="url(#b2)"/>
<ellipse cx="620.7" cy="812.9" rx="8.0" ry="2.8" fill="#1212b4" opacity="0.75" filter="url(#b2)"/>
<ellipse cx="620.7" cy="823.2" rx="7.5" ry="2.2" fill="#1010a6" opacity="0.55" filter="url(#b2)"/>
<ellipse cx="620.7" cy="832.3" rx="7.0" ry="1.5" fill="#0f0fa0" opacity="0.35" filter="url(#b2)"/>
<ellipse cx="620.7" cy="843.5" rx="8.0" ry="2.8" fill="#1313b8" opacity="0.7" filter="url(#b2)"/>
<ellipse cx="620.7" cy="854.8" rx="7.0" ry="1.5" fill="#0e0e98" opacity="0.35" filter="url(#b2)"/>
<ellipse cx="637.1" cy="801.2" rx="8.0" ry="3.0" fill="#1616cc" opacity="0.9" filter="url(#b2)"/>
<ellipse cx="637.1" cy="813.6" rx="8.0" ry="2.8" fill="#1212b4" opacity="0.75" filter="url(#b2)"/>
<ellipse cx="637.1" cy="823.7" rx="7.5" ry="2.2" fill="#1010a6" opacity="0.55" filter="url(#b2)"/>
<ellipse cx="637.1" cy="832.9" rx="7.0" ry="1.5" fill="#0f0fa0" opacity="0.35" filter="url(#b2)"/>
<ellipse cx="637.1" cy="844.1" rx="8.0" ry="2.8" fill="#1313b8" opacity="0.7" filter="url(#b2)"/>
<ellipse cx="637.1" cy="855.4" rx="7.0" ry="1.5" fill="#0e0e98" opacity="0.35" filter="url(#b2)"/>
<ellipse cx="653.0" cy="802.0" rx="8.0" ry="3.0" fill="#1616cc" opacity="0.9" filter="url(#b2)"/>
<ellipse cx="653.0" cy="814.3" rx="8.0" ry="2.8" fill="#1212b4" opacity="0.75" filter="url(#b2)"/>
<ellipse cx="653.0" cy="824.3" rx="7.5" ry="2.2" fill="#1010a6" opacity="0.55" filter="url(#b2)"/>
<ellipse cx="653.0" cy="833.4" rx="7.0" ry="1.5" fill="#0f0fa0" opacity="0.35" filter="url(#b2)"/>
<ellipse cx="653.0" cy="844.7" rx="8.0" ry="2.8" fill="#1313b8" opacity="0.7" filter="url(#b2)"/>
<ellipse cx="653.0" cy="855.9" rx="7.0" ry="1.5" fill="#0e0e98" opacity="0.35" filter="url(#b2)"/>
<ellipse cx="670.0" cy="802.7" rx="8.0" ry="3.0" fill="#1616cc" opacity="0.9" filter="url(#b2)"/>
<ellipse cx="670.0" cy="815.1" rx="8.0" ry="2.8" fill="#1212b4" opacity="0.75" filter="url(#b2)"/>
<ellipse cx="670.0" cy="824.9" rx="7.5" ry="2.2" fill="#1010a6" opacity="0.55" filter="url(#b2)"/>
<ellipse cx="670.0" cy="834.0" rx="7.0" ry="1.5" fill="#0f0fa0" opacity="0.35" filter="url(#b2)"/>
<ellipse cx="670.0" cy="845.4" rx="8.0" ry="2.8" fill="#1313b8" opacity="0.7" filter="url(#b2)"/>
<ellipse cx="670.0" cy="856.5" rx="7.0" ry="1.5" fill="#0e0e98" opacity="0.35" filter="url(#b2)"/>
<ellipse cx="686.2" cy="803.5" rx="8.0" ry="3.0" fill="#1616cc" opacity="0.9" filter="url(#b2)"/>
<ellipse cx="686.2" cy="815.8" rx="8.0" ry="2.8" fill="#1212b4" opacity="0.75" filter="url(#b2)"/>
<ellipse cx="686.2" cy="825.5" rx="7.5" ry="2.2" fill="#1010a6" opacity="0.55" filter="url(#b2)"/>
<ellipse cx="686.2" cy="834.5" rx="7.0" ry="1.5" fill="#0f0fa0" opacity="0.35" filter="url(#b2)"/>
<ellipse cx="686.2" cy="846.0" rx="8.0" ry="2.8" fill="#1313b8" opacity="0.7" filter="url(#b2)"/>
<ellipse cx="686.2" cy="857.0" rx="7.0" ry="1.5" fill="#0e0e98" opacity="0.35" filter="url(#b2)"/>
</g>
<path d="M489.4 734.0V866.4" stroke="#f4f4f4" stroke-width="0.9"/>
<path d="M544.4 734.0V866.4" stroke="#f4f4f4" stroke-width="0.9"/>
<path d="M598.3 734.0V866.4" stroke="#f4f4f4" stroke-width="0.9"/>
<path d="M645.5 734.0V866.4" stroke="#f4f4f4" stroke-width="0.9"/>
</svg>
</body></html>
